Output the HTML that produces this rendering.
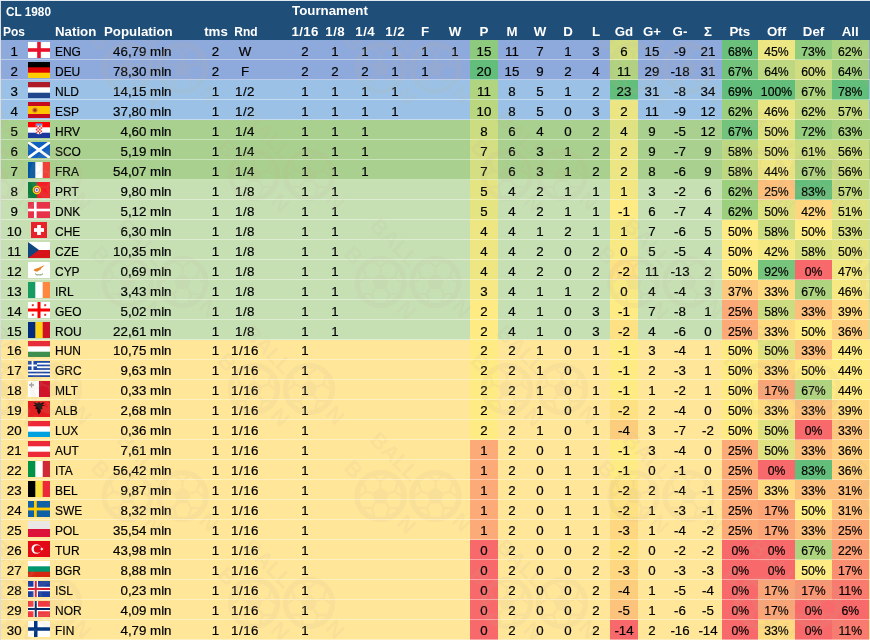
<!DOCTYPE html><html><head><meta charset="utf-8"><title>CL 1980</title><style>
*{margin:0;padding:0;box-sizing:border-box}
html,body{width:870px;height:640px;overflow:hidden;background:#DCDCDC}
body{font-family:"Liberation Sans",sans-serif;font-size:13.3px;color:#000;position:relative}
#t{position:absolute;left:1px;top:1px;width:869px;height:639px;overflow:hidden;background:#FFE699}
#tb{position:absolute;left:0;top:0;width:870px;height:1px;background:#E3E9F0}
#hd{position:absolute;left:0;top:0;width:100%;height:39px;background:#1F4E79;color:#fff;font-weight:bold}
.r{position:absolute;left:0;width:100%;height:20px}
.c{position:absolute;top:0;height:20px;line-height:23px;text-align:center;white-space:nowrap;-webkit-text-stroke:.2px #000}
.p{transform:scaleX(.92)}
.n{transform:scaleX(.9);transform-origin:0 0}
.b{position:absolute;top:0;height:20px}
.lo .c{line-height:22px}
.lo .f{top:1px}
.h{position:absolute;line-height:24px;white-space:nowrap;text-align:center}
#wm{position:absolute;left:0;top:39px;opacity:.115;fill:#C4B494;font:bold 22px "Liberation Sans",sans-serif;pointer-events:none}
#ln{position:absolute;left:0;top:39px;width:100%;height:600px;background:repeating-linear-gradient(to bottom,rgba(255,255,255,0) 0,rgba(255,255,255,0) 19px,rgba(255,255,255,.4) 19px,rgba(255,255,255,.4) 20px)}
.f{position:absolute;left:27px;top:2px;width:22px;height:16px;display:block}
</style></head><body><div id="t">
<div id="hd">
<span class="h n" style="left:4.6px;top:-1px;transform:scaleX(.885)">CL 1980</span>
<span class="h" style="left:291px;top:-2px;text-align:left">Tournament</span>
<span class="h n" style="left:1.6px;top:19px">Pos</span>
<span class="h" style="left:54px;top:19px;text-align:left">Nation</span>
<span class="h" style="left:103px;top:19px;text-align:left">Population</span>
<span class="h" style="left:193px;top:19px;width:44px;text-align:center">tms</span>
<span class="h" style="left:222.7px;top:19px;width:44px;transform:scaleX(.9)">Rnd</span>
<span class="h" style="left:282.2px;top:19px;width:44px;letter-spacing:.4px">1/16</span>
<span class="h" style="left:312.2px;top:19px;width:44px;letter-spacing:.4px">1/8</span>
<span class="h" style="left:342.2px;top:19px;width:44px;letter-spacing:.4px">1/4</span>
<span class="h" style="left:372.2px;top:19px;width:44px;letter-spacing:.4px">1/2</span>
<span class="h" style="left:402px;top:19px;width:44px;text-align:center">F</span>
<span class="h" style="left:432px;top:19px;width:44px;text-align:center">W</span>
<span class="h" style="left:469px;top:19px;width:28px;text-align:center">P</span>
<span class="h" style="left:497px;top:19px;width:28px;text-align:center">M</span>
<span class="h" style="left:525px;top:19px;width:28px;text-align:center">W</span>
<span class="h" style="left:553px;top:19px;width:28px;text-align:center">D</span>
<span class="h" style="left:581px;top:19px;width:28px;text-align:center">L</span>
<span class="h" style="left:609px;top:19px;width:28px;text-align:center">Gd</span>
<span class="h" style="left:637px;top:19px;width:28px;text-align:center">G+</span>
<span class="h" style="left:665px;top:19px;width:28px;text-align:center">G-</span>
<span class="h" style="left:693px;top:19px;width:28px;text-align:center">Σ</span>
<span class="h" style="left:720.5px;top:19px;width:36.5px;text-align:center">Pts</span>
<span class="h" style="left:757px;top:19px;width:37px;text-align:center">Off</span>
<span class="h" style="left:794px;top:19px;width:37px;text-align:center">Def</span>
<span class="h" style="left:831px;top:19px;width:36.5px;text-align:center">All</span>
</div>
<div class="r" style="top:39px;background:#8EA9DB">
<span class="c" style="left:0.7px;width:25.0px;">1</span>
<svg class="f" viewBox="0 0 22 16"><rect width="22" height="16" fill="#fff"/><rect x="9.200" width="3.600" height="16" fill="#E8112D"/><rect y="6.200" width="22" height="3.600" fill="#E8112D"/></svg>
<span class="c n" style="left:54px;width:45px;text-align:left;">ENG</span>
<span class="c" style="left:99px;width:71.5px;text-align:right;">46,79 mln</span>
<span class="c" style="left:199px;width:31px;">2</span>
<span class="c" style="left:224px;width:40px;">W</span>
<span class="c" style="left:289px;width:30px;">2</span>
<span class="c" style="left:319px;width:30px;">1</span>
<span class="c" style="left:349px;width:30px;">1</span>
<span class="c" style="left:379px;width:30px;">1</span>
<span class="c" style="left:409px;width:30px;">1</span>
<span class="c" style="left:439px;width:30px;">1</span>
<span class="c" style="left:469px;width:28px;background:#8ECA7E;">15</span>
<span class="c" style="left:497px;width:28px;">11</span>
<span class="c" style="left:525px;width:28px;">7</span>
<span class="c" style="left:553px;width:28px;">1</span>
<span class="c" style="left:581px;width:28px;">3</span>
<span class="c" style="left:609px;width:28px;background:#D2DE81;">6</span>
<span class="c" style="left:637px;width:28px;">15</span>
<span class="c" style="left:665px;width:28px;">-9</span>
<span class="c" style="left:693px;width:28px;">21</span>
<i class="b" style="left:720.5px;width:36.5px;background:#6BC07B"></i>
<span class="c p" style="left:720.5px;width:36.5px;">68%</span>
<i class="b" style="left:757px;width:37px;background:#ECE683"></i>
<span class="c p" style="left:757px;width:37px;">45%</span>
<i class="b" style="left:794px;width:37px;background:#92CC7E"></i>
<span class="c p" style="left:794px;width:37px;">73%</span>
<i class="b" style="left:831px;width:36.5px;background:#ACD37F"></i>
<span class="c p" style="left:831px;width:36.5px;">62%</span>
</div>
<div class="r" style="top:59px;background:#8EA9DB">
<span class="c" style="left:0.7px;width:25.0px;">2</span>
<svg class="f" viewBox="0 0 22 16"><rect width="22" height="16" fill="#FFCE00"/><rect width="22" height="10.7" fill="#DD0000"/><rect width="22" height="5.3" fill="#000"/></svg>
<span class="c n" style="left:54px;width:45px;text-align:left;">DEU</span>
<span class="c" style="left:99px;width:71.5px;text-align:right;">78,30 mln</span>
<span class="c" style="left:199px;width:31px;">2</span>
<span class="c" style="left:224px;width:40px;">F</span>
<span class="c" style="left:289px;width:30px;">2</span>
<span class="c" style="left:319px;width:30px;">2</span>
<span class="c" style="left:349px;width:30px;">2</span>
<span class="c" style="left:379px;width:30px;">1</span>
<span class="c" style="left:409px;width:30px;">1</span>
<span class="c" style="left:469px;width:28px;background:#63BE7B;">20</span>
<span class="c" style="left:497px;width:28px;">15</span>
<span class="c" style="left:525px;width:28px;">9</span>
<span class="c" style="left:553px;width:28px;">2</span>
<span class="c" style="left:581px;width:28px;">4</span>
<span class="c" style="left:609px;width:28px;background:#B1D480;">11</span>
<span class="c" style="left:637px;width:28px;">29</span>
<span class="c" style="left:665px;width:28px;">-18</span>
<span class="c" style="left:693px;width:28px;">31</span>
<i class="b" style="left:720.5px;width:36.5px;background:#73C37C"></i>
<span class="c p" style="left:720.5px;width:36.5px;">67%</span>
<i class="b" style="left:757px;width:37px;background:#BDD880"></i>
<span class="c p" style="left:757px;width:37px;">64%</span>
<i class="b" style="left:794px;width:37px;background:#D0DD81"></i>
<span class="c p" style="left:794px;width:37px;">60%</span>
<i class="b" style="left:831px;width:36.5px;background:#A3D17F"></i>
<span class="c p" style="left:831px;width:36.5px;">64%</span>
</div>
<div class="r" style="top:79px;background:#9BC2E6">
<span class="c" style="left:0.7px;width:25.0px;">3</span>
<svg class="f" viewBox="0 0 22 16"><rect width="22" height="16" fill="#21468B"/><rect width="22" height="10.7" fill="#fff"/><rect width="22" height="5.3" fill="#AE1C28"/></svg>
<span class="c n" style="left:54px;width:45px;text-align:left;">NLD</span>
<span class="c" style="left:99px;width:71.5px;text-align:right;">14,15 mln</span>
<span class="c" style="left:199px;width:31px;">1</span>
<span class="c" style="left:224px;width:40px;letter-spacing:.5px;">1/2</span>
<span class="c" style="left:289px;width:30px;">1</span>
<span class="c" style="left:319px;width:30px;">1</span>
<span class="c" style="left:349px;width:30px;">1</span>
<span class="c" style="left:379px;width:30px;">1</span>
<span class="c" style="left:469px;width:28px;background:#B1D480;">11</span>
<span class="c" style="left:497px;width:28px;">8</span>
<span class="c" style="left:525px;width:28px;">5</span>
<span class="c" style="left:553px;width:28px;">1</span>
<span class="c" style="left:581px;width:28px;">2</span>
<span class="c" style="left:609px;width:28px;background:#63BE7B;">23</span>
<span class="c" style="left:637px;width:28px;">31</span>
<span class="c" style="left:665px;width:28px;">-8</span>
<span class="c" style="left:693px;width:28px;">34</span>
<i class="b" style="left:720.5px;width:36.5px;background:#63BE7B"></i>
<span class="c p" style="left:720.5px;width:36.5px;">69%</span>
<i class="b" style="left:757px;width:37px;background:#63BE7B"></i>
<span class="c p" style="left:757px;width:37px;">100%</span>
<i class="b" style="left:794px;width:37px;background:#AFD47F"></i>
<span class="c p" style="left:794px;width:37px;">67%</span>
<i class="b" style="left:831px;width:36.5px;background:#63BE7B"></i>
<span class="c p" style="left:831px;width:36.5px;">78%</span>
</div>
<div class="r" style="top:99px;background:#9BC2E6">
<span class="c" style="left:0.7px;width:25.0px;">4</span>
<svg class="f" viewBox="0 0 22 16"><rect width="22" height="16" fill="#C60B1E"/><rect y="4" width="22" height="8" fill="#FFC400"/><circle cx="6.900" cy="8" r="2.600" fill="#C8782A"/><circle cx="6.900" cy="8.200" r="1.300" fill="#B02020"/></svg>
<span class="c n" style="left:54px;width:45px;text-align:left;">ESP</span>
<span class="c" style="left:99px;width:71.5px;text-align:right;">37,80 mln</span>
<span class="c" style="left:199px;width:31px;">1</span>
<span class="c" style="left:224px;width:40px;letter-spacing:.5px;">1/2</span>
<span class="c" style="left:289px;width:30px;">1</span>
<span class="c" style="left:319px;width:30px;">1</span>
<span class="c" style="left:349px;width:30px;">1</span>
<span class="c" style="left:379px;width:30px;">1</span>
<span class="c" style="left:469px;width:28px;background:#BAD780;">10</span>
<span class="c" style="left:497px;width:28px;">8</span>
<span class="c" style="left:525px;width:28px;">5</span>
<span class="c" style="left:553px;width:28px;">0</span>
<span class="c" style="left:581px;width:28px;">3</span>
<span class="c" style="left:609px;width:28px;background:#ECE583;">2</span>
<span class="c" style="left:637px;width:28px;">11</span>
<span class="c" style="left:665px;width:28px;">-9</span>
<span class="c" style="left:693px;width:28px;">12</span>
<i class="b" style="left:720.5px;width:36.5px;background:#9CCF7E"></i>
<span class="c p" style="left:720.5px;width:36.5px;">62%</span>
<i class="b" style="left:757px;width:37px;background:#EAE583"></i>
<span class="c p" style="left:757px;width:37px;">46%</span>
<i class="b" style="left:794px;width:37px;background:#C6DB81"></i>
<span class="c p" style="left:794px;width:37px;">62%</span>
<i class="b" style="left:831px;width:36.5px;background:#C3DA81"></i>
<span class="c p" style="left:831px;width:36.5px;">57%</span>
</div>
<div class="r" style="top:119px;background:#A9D08E">
<span class="c" style="left:0.7px;width:25.0px;">5</span>
<svg class="f" viewBox="0 0 22 16"><rect width="22" height="16" fill="#1C3A9E"/><rect width="22" height="10.7" fill="#fff"/><rect width="22" height="5.3" fill="#FF0000"/><path d="M7.800 2.200h6.400v6.800a3.200 3.200 0 0 1-6.400 0z" fill="#fff"/><path d="M7.800 1.400h6.400v2.200H7.800z" fill="#6F8FD8"/><path d="M7.800 3.600h1.600v1.600H7.800zM11 3.600h1.600v1.600H11zM9.400 5.200H11v1.600H9.400zM12.600 5.200h1.600v1.600h-1.600zM7.800 6.800h1.600v1.600H7.800zM11 6.800h1.600v1.600H11zM9.400 8.400H11V10H9.400zM12.600 8.400h1.600l-.3 1.600h-1.300zM7.800 10h1.600v1.500c-.8-.2-1.400-.8-1.600-1.500zM11 10h1.600l-.5 1.700c-.5.300-.8.300-1.100.3z" fill="#F03030"/></svg>
<span class="c n" style="left:54px;width:45px;text-align:left;">HRV</span>
<span class="c" style="left:99px;width:71.5px;text-align:right;">4,60 mln</span>
<span class="c" style="left:199px;width:31px;">1</span>
<span class="c" style="left:224px;width:40px;letter-spacing:.5px;">1/4</span>
<span class="c" style="left:289px;width:30px;">1</span>
<span class="c" style="left:319px;width:30px;">1</span>
<span class="c" style="left:349px;width:30px;">1</span>
<span class="c" style="left:469px;width:28px;background:#CBDC81;">8</span>
<span class="c" style="left:497px;width:28px;">6</span>
<span class="c" style="left:525px;width:28px;">4</span>
<span class="c" style="left:553px;width:28px;">0</span>
<span class="c" style="left:581px;width:28px;">2</span>
<span class="c" style="left:609px;width:28px;background:#DEE282;">4</span>
<span class="c" style="left:637px;width:28px;">9</span>
<span class="c" style="left:665px;width:28px;">-5</span>
<span class="c" style="left:693px;width:28px;">12</span>
<i class="b" style="left:720.5px;width:36.5px;background:#73C37C"></i>
<span class="c p" style="left:720.5px;width:36.5px;">67%</span>
<i class="b" style="left:757px;width:37px;background:#E0E282"></i>
<span class="c p" style="left:757px;width:37px;">50%</span>
<i class="b" style="left:794px;width:37px;background:#97CD7E"></i>
<span class="c p" style="left:794px;width:37px;">72%</span>
<i class="b" style="left:831px;width:36.5px;background:#A8D27F"></i>
<span class="c p" style="left:831px;width:36.5px;">63%</span>
</div>
<div class="r" style="top:139px;background:#A9D08E">
<span class="c" style="left:0.7px;width:25.0px;">6</span>
<svg class="f" viewBox="0 0 22 16"><rect width="22" height="16" fill="#0F5FC0"/><path d="M0 0L22 16M22 0L0 16" stroke="#fff" stroke-width="2.700"/></svg>
<span class="c n" style="left:54px;width:45px;text-align:left;">SCO</span>
<span class="c" style="left:99px;width:71.5px;text-align:right;">5,19 mln</span>
<span class="c" style="left:199px;width:31px;">1</span>
<span class="c" style="left:224px;width:40px;letter-spacing:.5px;">1/4</span>
<span class="c" style="left:289px;width:30px;">1</span>
<span class="c" style="left:319px;width:30px;">1</span>
<span class="c" style="left:349px;width:30px;">1</span>
<span class="c" style="left:469px;width:28px;background:#D4DE82;">7</span>
<span class="c" style="left:497px;width:28px;">6</span>
<span class="c" style="left:525px;width:28px;">3</span>
<span class="c" style="left:553px;width:28px;">1</span>
<span class="c" style="left:581px;width:28px;">2</span>
<span class="c" style="left:609px;width:28px;background:#ECE583;">2</span>
<span class="c" style="left:637px;width:28px;">9</span>
<span class="c" style="left:665px;width:28px;">-7</span>
<span class="c" style="left:693px;width:28px;">9</span>
<i class="b" style="left:720.5px;width:36.5px;background:#BDD880"></i>
<span class="c p" style="left:720.5px;width:36.5px;">58%</span>
<i class="b" style="left:757px;width:37px;background:#E0E282"></i>
<span class="c p" style="left:757px;width:37px;">50%</span>
<i class="b" style="left:794px;width:37px;background:#CBDC81"></i>
<span class="c p" style="left:794px;width:37px;">61%</span>
<i class="b" style="left:831px;width:36.5px;background:#C8DB81"></i>
<span class="c p" style="left:831px;width:36.5px;">56%</span>
</div>
<div class="r" style="top:159px;background:#A9D08E">
<span class="c" style="left:0.7px;width:25.0px;">7</span>
<svg class="f" viewBox="0 0 22 16"><rect width="22" height="16" fill="#EF4135"/><rect width="14.7" height="16" fill="#fff"/><rect width="7.3" height="16" fill="#0055A4"/></svg>
<span class="c n" style="left:54px;width:45px;text-align:left;">FRA</span>
<span class="c" style="left:99px;width:71.5px;text-align:right;">54,07 mln</span>
<span class="c" style="left:199px;width:31px;">1</span>
<span class="c" style="left:224px;width:40px;letter-spacing:.5px;">1/4</span>
<span class="c" style="left:289px;width:30px;">1</span>
<span class="c" style="left:319px;width:30px;">1</span>
<span class="c" style="left:349px;width:30px;">1</span>
<span class="c" style="left:469px;width:28px;background:#D4DE82;">7</span>
<span class="c" style="left:497px;width:28px;">6</span>
<span class="c" style="left:525px;width:28px;">3</span>
<span class="c" style="left:553px;width:28px;">1</span>
<span class="c" style="left:581px;width:28px;">2</span>
<span class="c" style="left:609px;width:28px;background:#ECE583;">2</span>
<span class="c" style="left:637px;width:28px;">8</span>
<span class="c" style="left:665px;width:28px;">-6</span>
<span class="c" style="left:693px;width:28px;">9</span>
<i class="b" style="left:720.5px;width:36.5px;background:#BDD880"></i>
<span class="c p" style="left:720.5px;width:36.5px;">58%</span>
<i class="b" style="left:757px;width:37px;background:#EFE683"></i>
<span class="c p" style="left:757px;width:37px;">44%</span>
<i class="b" style="left:794px;width:37px;background:#AFD47F"></i>
<span class="c p" style="left:794px;width:37px;">67%</span>
<i class="b" style="left:831px;width:36.5px;background:#C8DB81"></i>
<span class="c p" style="left:831px;width:36.5px;">56%</span>
</div>
<div class="r" style="top:179px;background:#C6E0B4">
<span class="c" style="left:0.7px;width:25.0px;">8</span>
<svg class="f" viewBox="0 0 22 16"><rect width="22" height="16" fill="#F21D26"/><rect width="8.8" height="16" fill="#0B7B3E"/><circle cx="8.8" cy="8" r="4.200" fill="#FFE000"/><circle cx="8.8" cy="8" r="2.700" fill="#F0F0F0"/><circle cx="8.8" cy="8" r="2.700" fill="none" stroke="#D03030" stroke-width=".9"/><circle cx="8.8" cy="8" r=".9" fill="#3050B0"/></svg>
<span class="c n" style="left:54px;width:45px;text-align:left;">PRT</span>
<span class="c" style="left:99px;width:71.5px;text-align:right;">9,80 mln</span>
<span class="c" style="left:199px;width:31px;">1</span>
<span class="c" style="left:224px;width:40px;letter-spacing:.5px;">1/8</span>
<span class="c" style="left:289px;width:30px;">1</span>
<span class="c" style="left:319px;width:30px;">1</span>
<span class="c" style="left:469px;width:28px;background:#E5E482;">5</span>
<span class="c" style="left:497px;width:28px;">4</span>
<span class="c" style="left:525px;width:28px;">2</span>
<span class="c" style="left:553px;width:28px;">1</span>
<span class="c" style="left:581px;width:28px;">1</span>
<span class="c" style="left:609px;width:28px;background:#F2E783;">1</span>
<span class="c" style="left:637px;width:28px;">3</span>
<span class="c" style="left:665px;width:28px;">-2</span>
<span class="c" style="left:693px;width:28px;">6</span>
<i class="b" style="left:720.5px;width:36.5px;background:#9CCF7E"></i>
<span class="c p" style="left:720.5px;width:36.5px;">62%</span>
<i class="b" style="left:757px;width:37px;background:#FDC07C"></i>
<span class="c p" style="left:757px;width:37px;">25%</span>
<i class="b" style="left:794px;width:37px;background:#63BE7B"></i>
<span class="c p" style="left:794px;width:37px;">83%</span>
<i class="b" style="left:831px;width:36.5px;background:#C3DA81"></i>
<span class="c p" style="left:831px;width:36.5px;">57%</span>
</div>
<div class="r" style="top:199px;background:#C6E0B4">
<span class="c" style="left:0.7px;width:25.0px;">9</span>
<svg class="f" viewBox="0 0 22 16"><rect width="22" height="16" fill="#E8324A"/><rect x="6" width="2.6" height="16" fill="#fff"/><rect y="6.700" width="22" height="2.6" fill="#fff"/></svg>
<span class="c n" style="left:54px;width:45px;text-align:left;">DNK</span>
<span class="c" style="left:99px;width:71.5px;text-align:right;">5,12 mln</span>
<span class="c" style="left:199px;width:31px;">1</span>
<span class="c" style="left:224px;width:40px;letter-spacing:.5px;">1/8</span>
<span class="c" style="left:289px;width:30px;">1</span>
<span class="c" style="left:319px;width:30px;">1</span>
<span class="c" style="left:469px;width:28px;background:#E5E482;">5</span>
<span class="c" style="left:497px;width:28px;">4</span>
<span class="c" style="left:525px;width:28px;">2</span>
<span class="c" style="left:553px;width:28px;">1</span>
<span class="c" style="left:581px;width:28px;">1</span>
<span class="c" style="left:609px;width:28px;background:#FFEB84;">-1</span>
<span class="c" style="left:637px;width:28px;">6</span>
<span class="c" style="left:665px;width:28px;">-7</span>
<span class="c" style="left:693px;width:28px;">4</span>
<i class="b" style="left:720.5px;width:36.5px;background:#9CCF7E"></i>
<span class="c p" style="left:720.5px;width:36.5px;">62%</span>
<i class="b" style="left:757px;width:37px;background:#E0E282"></i>
<span class="c p" style="left:757px;width:37px;">50%</span>
<i class="b" style="left:794px;width:37px;background:#FED680"></i>
<span class="c p" style="left:794px;width:37px;">42%</span>
<i class="b" style="left:831px;width:36.5px;background:#DFE282"></i>
<span class="c p" style="left:831px;width:36.5px;">51%</span>
</div>
<div class="r" style="top:219px;background:#C6E0B4">
<span class="c" style="left:0.7px;width:25.0px;">10</span>
<svg class="f" viewBox="0 0 22 16"><rect x="3" width="16" height="16" fill="#E8222A"/><rect x="9.100" y="3" width="3.800" height="10" fill="#fff"/><rect x="6" y="6.100" width="10" height="3.800" fill="#fff"/></svg>
<span class="c n" style="left:54px;width:45px;text-align:left;">CHE</span>
<span class="c" style="left:99px;width:71.5px;text-align:right;">6,30 mln</span>
<span class="c" style="left:199px;width:31px;">1</span>
<span class="c" style="left:224px;width:40px;letter-spacing:.5px;">1/8</span>
<span class="c" style="left:289px;width:30px;">1</span>
<span class="c" style="left:319px;width:30px;">1</span>
<span class="c" style="left:469px;width:28px;background:#EEE683;">4</span>
<span class="c" style="left:497px;width:28px;">4</span>
<span class="c" style="left:525px;width:28px;">1</span>
<span class="c" style="left:553px;width:28px;">2</span>
<span class="c" style="left:581px;width:28px;">1</span>
<span class="c" style="left:609px;width:28px;background:#F2E783;">1</span>
<span class="c" style="left:637px;width:28px;">7</span>
<span class="c" style="left:665px;width:28px;">-6</span>
<span class="c" style="left:693px;width:28px;">5</span>
<i class="b" style="left:720.5px;width:36.5px;background:#FFEB84"></i>
<span class="c p" style="left:720.5px;width:36.5px;">50%</span>
<i class="b" style="left:757px;width:37px;background:#CCDC81"></i>
<span class="c p" style="left:757px;width:37px;">58%</span>
<i class="b" style="left:794px;width:37px;background:#FFEB84"></i>
<span class="c p" style="left:794px;width:37px;">50%</span>
<i class="b" style="left:831px;width:36.5px;background:#D6DF82"></i>
<span class="c p" style="left:831px;width:36.5px;">53%</span>
</div>
<div class="r" style="top:239px;background:#C6E0B4">
<span class="c" style="left:0.7px;width:25.0px;">11</span>
<svg class="f" viewBox="0 0 22 16"><rect width="22" height="16" fill="#D7141A"/><rect width="22" height="8" fill="#fff"/><path d="M0 0L11 8L0 16z" fill="#11457E"/></svg>
<span class="c n" style="left:54px;width:45px;text-align:left;">CZE</span>
<span class="c" style="left:99px;width:71.5px;text-align:right;">10,35 mln</span>
<span class="c" style="left:199px;width:31px;">1</span>
<span class="c" style="left:224px;width:40px;letter-spacing:.5px;">1/8</span>
<span class="c" style="left:289px;width:30px;">1</span>
<span class="c" style="left:319px;width:30px;">1</span>
<span class="c" style="left:469px;width:28px;background:#EEE683;">4</span>
<span class="c" style="left:497px;width:28px;">4</span>
<span class="c" style="left:525px;width:28px;">2</span>
<span class="c" style="left:553px;width:28px;">0</span>
<span class="c" style="left:581px;width:28px;">2</span>
<span class="c" style="left:609px;width:28px;background:#F8E984;">0</span>
<span class="c" style="left:637px;width:28px;">5</span>
<span class="c" style="left:665px;width:28px;">-5</span>
<span class="c" style="left:693px;width:28px;">4</span>
<i class="b" style="left:720.5px;width:36.5px;background:#FFEB84"></i>
<span class="c p" style="left:720.5px;width:36.5px;">50%</span>
<i class="b" style="left:757px;width:37px;background:#F4E883"></i>
<span class="c p" style="left:757px;width:37px;">42%</span>
<i class="b" style="left:794px;width:37px;background:#D9E082"></i>
<span class="c p" style="left:794px;width:37px;">58%</span>
<i class="b" style="left:831px;width:36.5px;background:#E3E382"></i>
<span class="c p" style="left:831px;width:36.5px;">50%</span>
</div>
<div class="r" style="top:259px;background:#C6E0B4">
<span class="c" style="left:0.7px;width:25.0px;">12</span>
<svg class="f" viewBox="0 0 22 16"><rect width="22" height="16" fill="#fff"/><path d="M5.5 8.2c1-1.500 3-1.800 4.500-2.200 1.500-.4 3.500-1.800 6.500-3-.8 1.500-2.500 2.500-3.500 3.500.3.800-.5 1.500-1.500 1.700-1 .200-1.500 1.300-2.800 1.300-1.500 0-2.200-.8-3.200-1.300z" fill="#E2882A"/><path d="M7 11.500c1 1.300 2.500 1.800 3.800 1.300M15 11.500c-1 1.300-2.500 1.800-3.800 1.300" stroke="#6B8E4E" stroke-width="1" fill="none"/></svg>
<span class="c n" style="left:54px;width:45px;text-align:left;">CYP</span>
<span class="c" style="left:99px;width:71.5px;text-align:right;">0,69 mln</span>
<span class="c" style="left:199px;width:31px;">1</span>
<span class="c" style="left:224px;width:40px;letter-spacing:.5px;">1/8</span>
<span class="c" style="left:289px;width:30px;">1</span>
<span class="c" style="left:319px;width:30px;">1</span>
<span class="c" style="left:469px;width:28px;background:#EEE683;">4</span>
<span class="c" style="left:497px;width:28px;">4</span>
<span class="c" style="left:525px;width:28px;">2</span>
<span class="c" style="left:553px;width:28px;">0</span>
<span class="c" style="left:581px;width:28px;">2</span>
<span class="c" style="left:609px;width:28px;background:#FEE182;">-2</span>
<span class="c" style="left:637px;width:28px;">11</span>
<span class="c" style="left:665px;width:28px;">-13</span>
<span class="c" style="left:693px;width:28px;">2</span>
<i class="b" style="left:720.5px;width:36.5px;background:#FFEB84"></i>
<span class="c p" style="left:720.5px;width:36.5px;">50%</span>
<i class="b" style="left:757px;width:37px;background:#77C47C"></i>
<span class="c p" style="left:757px;width:37px;">92%</span>
<i class="b" style="left:794px;width:37px;background:#F8696B"></i>
<span class="c p" style="left:794px;width:37px;">0%</span>
<i class="b" style="left:831px;width:36.5px;background:#F1E783"></i>
<span class="c p" style="left:831px;width:36.5px;">47%</span>
</div>
<div class="r" style="top:279px;background:#C6E0B4">
<span class="c" style="left:0.7px;width:25.0px;">13</span>
<svg class="f" viewBox="0 0 22 16"><rect width="22" height="16" fill="#FF883E"/><rect width="14.7" height="16" fill="#fff"/><rect width="7.3" height="16" fill="#169B62"/></svg>
<span class="c n" style="left:54px;width:45px;text-align:left;">IRL</span>
<span class="c" style="left:99px;width:71.5px;text-align:right;">3,43 mln</span>
<span class="c" style="left:199px;width:31px;">1</span>
<span class="c" style="left:224px;width:40px;letter-spacing:.5px;">1/8</span>
<span class="c" style="left:289px;width:30px;">1</span>
<span class="c" style="left:319px;width:30px;">1</span>
<span class="c" style="left:469px;width:28px;background:#F6E884;">3</span>
<span class="c" style="left:497px;width:28px;">4</span>
<span class="c" style="left:525px;width:28px;">1</span>
<span class="c" style="left:553px;width:28px;">1</span>
<span class="c" style="left:581px;width:28px;">2</span>
<span class="c" style="left:609px;width:28px;background:#F8E984;">0</span>
<span class="c" style="left:637px;width:28px;">4</span>
<span class="c" style="left:665px;width:28px;">-4</span>
<span class="c" style="left:693px;width:28px;">3</span>
<i class="b" style="left:720.5px;width:36.5px;background:#FDC97E"></i>
<span class="c p" style="left:720.5px;width:36.5px;">37%</span>
<i class="b" style="left:757px;width:37px;background:#FEDB81"></i>
<span class="c p" style="left:757px;width:37px;">33%</span>
<i class="b" style="left:794px;width:37px;background:#AFD47F"></i>
<span class="c p" style="left:794px;width:37px;">67%</span>
<i class="b" style="left:831px;width:36.5px;background:#F6E883"></i>
<span class="c p" style="left:831px;width:36.5px;">46%</span>
</div>
<div class="r" style="top:299px;background:#C6E0B4">
<span class="c" style="left:0.7px;width:25.0px;">14</span>
<svg class="f" viewBox="0 0 22 16"><rect width="22" height="16" fill="#fff"/><rect x="9.500" width="3" height="16" fill="#FF0000"/><rect y="6.500" width="22" height="3" fill="#FF0000"/><g fill="#E03030"><rect x="3.800" y="2.200" width="2" height="2"/><rect x="16.200" y="2.200" width="2" height="2"/><rect x="3.800" y="11.800" width="2" height="2"/><rect x="16.200" y="11.800" width="2" height="2"/></g></svg>
<span class="c n" style="left:54px;width:45px;text-align:left;">GEO</span>
<span class="c" style="left:99px;width:71.5px;text-align:right;">5,02 mln</span>
<span class="c" style="left:199px;width:31px;">1</span>
<span class="c" style="left:224px;width:40px;letter-spacing:.5px;">1/8</span>
<span class="c" style="left:289px;width:30px;">1</span>
<span class="c" style="left:319px;width:30px;">1</span>
<span class="c" style="left:469px;width:28px;background:#FFEB84;">2</span>
<span class="c" style="left:497px;width:28px;">4</span>
<span class="c" style="left:525px;width:28px;">1</span>
<span class="c" style="left:553px;width:28px;">0</span>
<span class="c" style="left:581px;width:28px;">3</span>
<span class="c" style="left:609px;width:28px;background:#FFEB84;">-1</span>
<span class="c" style="left:637px;width:28px;">7</span>
<span class="c" style="left:665px;width:28px;">-8</span>
<span class="c" style="left:693px;width:28px;">1</span>
<i class="b" style="left:720.5px;width:36.5px;background:#FCAA78"></i>
<span class="c p" style="left:720.5px;width:36.5px;">25%</span>
<i class="b" style="left:757px;width:37px;background:#CCDC81"></i>
<span class="c p" style="left:757px;width:37px;">58%</span>
<i class="b" style="left:794px;width:37px;background:#FDBF7C"></i>
<span class="c p" style="left:794px;width:37px;">33%</span>
<i class="b" style="left:831px;width:36.5px;background:#FEDA81"></i>
<span class="c p" style="left:831px;width:36.5px;">39%</span>
</div>
<div class="r" style="top:319px;background:#C6E0B4">
<span class="c" style="left:0.7px;width:25.0px;">15</span>
<svg class="f" viewBox="0 0 22 16"><rect width="22" height="16" fill="#CE1126"/><rect width="14.7" height="16" fill="#FCD116"/><rect width="7.3" height="16" fill="#002B7F"/></svg>
<span class="c n" style="left:54px;width:45px;text-align:left;">ROU</span>
<span class="c" style="left:99px;width:71.5px;text-align:right;">22,61 mln</span>
<span class="c" style="left:199px;width:31px;">1</span>
<span class="c" style="left:224px;width:40px;letter-spacing:.5px;">1/8</span>
<span class="c" style="left:289px;width:30px;">1</span>
<span class="c" style="left:319px;width:30px;">1</span>
<span class="c" style="left:469px;width:28px;background:#FFEB84;">2</span>
<span class="c" style="left:497px;width:28px;">4</span>
<span class="c" style="left:525px;width:28px;">1</span>
<span class="c" style="left:553px;width:28px;">0</span>
<span class="c" style="left:581px;width:28px;">3</span>
<span class="c" style="left:609px;width:28px;background:#FEE182;">-2</span>
<span class="c" style="left:637px;width:28px;">4</span>
<span class="c" style="left:665px;width:28px;">-6</span>
<span class="c" style="left:693px;width:28px;">0</span>
<i class="b" style="left:720.5px;width:36.5px;background:#FCAA78"></i>
<span class="c p" style="left:720.5px;width:36.5px;">25%</span>
<i class="b" style="left:757px;width:37px;background:#FEDB81"></i>
<span class="c p" style="left:757px;width:37px;">33%</span>
<i class="b" style="left:794px;width:37px;background:#FFEB84"></i>
<span class="c p" style="left:794px;width:37px;">50%</span>
<i class="b" style="left:831px;width:36.5px;background:#FED07F"></i>
<span class="c p" style="left:831px;width:36.5px;">36%</span>
</div>
<div class="r lo" style="top:339px;background:#FFE699">
<span class="c" style="left:0.7px;width:25.0px;">16</span>
<svg class="f" viewBox="0 0 22 16"><rect width="22" height="16" fill="#3E8E4E"/><rect width="22" height="10.7" fill="#fff"/><rect width="22" height="5.3" fill="#E62D3A"/></svg>
<span class="c n" style="left:54px;width:45px;text-align:left;">HUN</span>
<span class="c" style="left:99px;width:71.5px;text-align:right;">10,75 mln</span>
<span class="c" style="left:199px;width:31px;">1</span>
<span class="c" style="left:224px;width:40px;letter-spacing:.5px;">1/16</span>
<span class="c" style="left:289px;width:30px;">1</span>
<span class="c" style="left:469px;width:28px;background:#FFEB84;">2</span>
<span class="c" style="left:497px;width:28px;">2</span>
<span class="c" style="left:525px;width:28px;">1</span>
<span class="c" style="left:553px;width:28px;">0</span>
<span class="c" style="left:581px;width:28px;">1</span>
<span class="c" style="left:609px;width:28px;background:#FFEB84;">-1</span>
<span class="c" style="left:637px;width:28px;">3</span>
<span class="c" style="left:665px;width:28px;">-4</span>
<span class="c" style="left:693px;width:28px;">1</span>
<i class="b" style="left:720.5px;width:36.5px;background:#FFEB84"></i>
<span class="c p" style="left:720.5px;width:36.5px;">50%</span>
<i class="b" style="left:757px;width:37px;background:#E0E282"></i>
<span class="c p" style="left:757px;width:37px;">50%</span>
<i class="b" style="left:794px;width:37px;background:#FDBF7C"></i>
<span class="c p" style="left:794px;width:37px;">33%</span>
<i class="b" style="left:831px;width:36.5px;background:#FFEB84"></i>
<span class="c p" style="left:831px;width:36.5px;">44%</span>
</div>
<div class="r lo" style="top:359px;background:#FFE699">
<span class="c" style="left:0.7px;width:25.0px;">17</span>
<svg class="f" viewBox="0 0 22 16"><rect width="22" height="16" fill="#1F49A6"/><g fill="#fff"><rect y="1.800" width="22" height="1.800"/><rect y="5.300" width="22" height="1.800"/><rect y="8.900" width="22" height="1.800"/><rect y="12.400" width="22" height="1.800"/></g><rect width="9" height="8.900" fill="#1F49A6"/><rect x="3.600" width="1.800" height="8.900" fill="#fff"/><rect y="3.550" width="9" height="1.800" fill="#fff"/></svg>
<span class="c n" style="left:54px;width:45px;text-align:left;">GRC</span>
<span class="c" style="left:99px;width:71.5px;text-align:right;">9,63 mln</span>
<span class="c" style="left:199px;width:31px;">1</span>
<span class="c" style="left:224px;width:40px;letter-spacing:.5px;">1/16</span>
<span class="c" style="left:289px;width:30px;">1</span>
<span class="c" style="left:469px;width:28px;background:#FFEB84;">2</span>
<span class="c" style="left:497px;width:28px;">2</span>
<span class="c" style="left:525px;width:28px;">1</span>
<span class="c" style="left:553px;width:28px;">0</span>
<span class="c" style="left:581px;width:28px;">1</span>
<span class="c" style="left:609px;width:28px;background:#FFEB84;">-1</span>
<span class="c" style="left:637px;width:28px;">2</span>
<span class="c" style="left:665px;width:28px;">-3</span>
<span class="c" style="left:693px;width:28px;">1</span>
<i class="b" style="left:720.5px;width:36.5px;background:#FFEB84"></i>
<span class="c p" style="left:720.5px;width:36.5px;">50%</span>
<i class="b" style="left:757px;width:37px;background:#FEDB81"></i>
<span class="c p" style="left:757px;width:37px;">33%</span>
<i class="b" style="left:794px;width:37px;background:#FFEB84"></i>
<span class="c p" style="left:794px;width:37px;">50%</span>
<i class="b" style="left:831px;width:36.5px;background:#FFEB84"></i>
<span class="c p" style="left:831px;width:36.5px;">44%</span>
</div>
<div class="r lo" style="top:379px;background:#FFE699">
<span class="c" style="left:0.7px;width:25.0px;">18</span>
<svg class="f" viewBox="0 0 22 16"><rect width="22" height="16" fill="#CF142B"/><rect width="11" height="16" fill="#fff"/><path d="M3.500 1.500v5M1 4h5" stroke="#A0A0A0" stroke-width="1.300"/></svg>
<span class="c n" style="left:54px;width:45px;text-align:left;">MLT</span>
<span class="c" style="left:99px;width:71.5px;text-align:right;">0,33 mln</span>
<span class="c" style="left:199px;width:31px;">1</span>
<span class="c" style="left:224px;width:40px;letter-spacing:.5px;">1/16</span>
<span class="c" style="left:289px;width:30px;">1</span>
<span class="c" style="left:469px;width:28px;background:#FFEB84;">2</span>
<span class="c" style="left:497px;width:28px;">2</span>
<span class="c" style="left:525px;width:28px;">1</span>
<span class="c" style="left:553px;width:28px;">0</span>
<span class="c" style="left:581px;width:28px;">1</span>
<span class="c" style="left:609px;width:28px;background:#FFEB84;">-1</span>
<span class="c" style="left:637px;width:28px;">1</span>
<span class="c" style="left:665px;width:28px;">-2</span>
<span class="c" style="left:693px;width:28px;">1</span>
<i class="b" style="left:720.5px;width:36.5px;background:#FFEB84"></i>
<span class="c p" style="left:720.5px;width:36.5px;">50%</span>
<i class="b" style="left:757px;width:37px;background:#FBA476"></i>
<span class="c p" style="left:757px;width:37px;">17%</span>
<i class="b" style="left:794px;width:37px;background:#AFD47F"></i>
<span class="c p" style="left:794px;width:37px;">67%</span>
<i class="b" style="left:831px;width:36.5px;background:#FFEB84"></i>
<span class="c p" style="left:831px;width:36.5px;">44%</span>
</div>
<div class="r lo" style="top:399px;background:#FFE699">
<span class="c" style="left:0.7px;width:25.0px;">19</span>
<svg class="f" viewBox="0 0 22 16"><rect width="22" height="16" fill="#E41E20"/><path transform="translate(11 8) scale(1.350) translate(-11 -8.500)" d="M11 3.500c.6 0 1 .5 1.200 1 .8-.8 2-1 3-.8-.8.500-1 1.200-1.800 1.600.800 0 1.500.3 2 .8-1 0-1.600.500-2.500.6.500.500.800 1.200.6 2-.6-.500-1-.3-1.300.2.300.8.300 1.800-1.200 3.600-1.500-1.800-1.500-2.800-1.200-3.600-.3-.5-.7-.7-1.300-.2-.2-.8.100-1.500.6-2-.9-.1-1.500-.6-2.500-.6.500-.5 1.200-.8 2-.8-.8-.4-1-1.100-1.800-1.600 1-.2 2.200 0 3 .8.200-.5.600-1 1.200-1z" fill="#1a0a0a"/></svg>
<span class="c n" style="left:54px;width:45px;text-align:left;">ALB</span>
<span class="c" style="left:99px;width:71.5px;text-align:right;">2,68 mln</span>
<span class="c" style="left:199px;width:31px;">1</span>
<span class="c" style="left:224px;width:40px;letter-spacing:.5px;">1/16</span>
<span class="c" style="left:289px;width:30px;">1</span>
<span class="c" style="left:469px;width:28px;background:#FFEB84;">2</span>
<span class="c" style="left:497px;width:28px;">2</span>
<span class="c" style="left:525px;width:28px;">1</span>
<span class="c" style="left:553px;width:28px;">0</span>
<span class="c" style="left:581px;width:28px;">1</span>
<span class="c" style="left:609px;width:28px;background:#FEE182;">-2</span>
<span class="c" style="left:637px;width:28px;">2</span>
<span class="c" style="left:665px;width:28px;">-4</span>
<span class="c" style="left:693px;width:28px;">0</span>
<i class="b" style="left:720.5px;width:36.5px;background:#FFEB84"></i>
<span class="c p" style="left:720.5px;width:36.5px;">50%</span>
<i class="b" style="left:757px;width:37px;background:#FEDB81"></i>
<span class="c p" style="left:757px;width:37px;">33%</span>
<i class="b" style="left:794px;width:37px;background:#FDBF7C"></i>
<span class="c p" style="left:794px;width:37px;">33%</span>
<i class="b" style="left:831px;width:36.5px;background:#FEDA81"></i>
<span class="c p" style="left:831px;width:36.5px;">39%</span>
</div>
<div class="r lo" style="top:419px;background:#FFE699">
<span class="c" style="left:0.7px;width:25.0px;">20</span>
<svg class="f" viewBox="0 0 22 16"><rect width="22" height="16" fill="#00A1DE"/><rect width="22" height="10.7" fill="#fff"/><rect width="22" height="5.3" fill="#ED2939"/></svg>
<span class="c n" style="left:54px;width:45px;text-align:left;">LUX</span>
<span class="c" style="left:99px;width:71.5px;text-align:right;">0,36 mln</span>
<span class="c" style="left:199px;width:31px;">1</span>
<span class="c" style="left:224px;width:40px;letter-spacing:.5px;">1/16</span>
<span class="c" style="left:289px;width:30px;">1</span>
<span class="c" style="left:469px;width:28px;background:#FFEB84;">2</span>
<span class="c" style="left:497px;width:28px;">2</span>
<span class="c" style="left:525px;width:28px;">1</span>
<span class="c" style="left:553px;width:28px;">0</span>
<span class="c" style="left:581px;width:28px;">1</span>
<span class="c" style="left:609px;width:28px;background:#FDCD7E;">-4</span>
<span class="c" style="left:637px;width:28px;">3</span>
<span class="c" style="left:665px;width:28px;">-7</span>
<span class="c" style="left:693px;width:28px;">-2</span>
<i class="b" style="left:720.5px;width:36.5px;background:#FFEB84"></i>
<span class="c p" style="left:720.5px;width:36.5px;">50%</span>
<i class="b" style="left:757px;width:37px;background:#E0E282"></i>
<span class="c p" style="left:757px;width:37px;">50%</span>
<i class="b" style="left:794px;width:37px;background:#F8696B"></i>
<span class="c p" style="left:794px;width:37px;">0%</span>
<i class="b" style="left:831px;width:36.5px;background:#FDC57D"></i>
<span class="c p" style="left:831px;width:36.5px;">33%</span>
</div>
<div class="r lo" style="top:439px;background:#FFE699">
<span class="c" style="left:0.7px;width:25.0px;">21</span>
<svg class="f" viewBox="0 0 22 16"><rect width="22" height="16" fill="#ED2939"/><rect y="5.3" width="22" height="5.400" fill="#fff"/></svg>
<span class="c n" style="left:54px;width:45px;text-align:left;">AUT</span>
<span class="c" style="left:99px;width:71.5px;text-align:right;">7,61 mln</span>
<span class="c" style="left:199px;width:31px;">1</span>
<span class="c" style="left:224px;width:40px;letter-spacing:.5px;">1/16</span>
<span class="c" style="left:289px;width:30px;">1</span>
<span class="c" style="left:469px;width:28px;background:#FCAA78;">1</span>
<span class="c" style="left:497px;width:28px;">2</span>
<span class="c" style="left:525px;width:28px;">0</span>
<span class="c" style="left:553px;width:28px;">1</span>
<span class="c" style="left:581px;width:28px;">1</span>
<span class="c" style="left:609px;width:28px;background:#FFEB84;">-1</span>
<span class="c" style="left:637px;width:28px;">3</span>
<span class="c" style="left:665px;width:28px;">-4</span>
<span class="c" style="left:693px;width:28px;">0</span>
<i class="b" style="left:720.5px;width:36.5px;background:#FCAA78"></i>
<span class="c p" style="left:720.5px;width:36.5px;">25%</span>
<i class="b" style="left:757px;width:37px;background:#E0E282"></i>
<span class="c p" style="left:757px;width:37px;">50%</span>
<i class="b" style="left:794px;width:37px;background:#FDBF7C"></i>
<span class="c p" style="left:794px;width:37px;">33%</span>
<i class="b" style="left:831px;width:36.5px;background:#FED07F"></i>
<span class="c p" style="left:831px;width:36.5px;">36%</span>
</div>
<div class="r lo" style="top:459px;background:#FFE699">
<span class="c" style="left:0.7px;width:25.0px;">22</span>
<svg class="f" viewBox="0 0 22 16"><rect width="22" height="16" fill="#CE2B37"/><rect width="14.7" height="16" fill="#fff"/><rect width="7.3" height="16" fill="#009246"/></svg>
<span class="c n" style="left:54px;width:45px;text-align:left;">ITA</span>
<span class="c" style="left:99px;width:71.5px;text-align:right;">56,42 mln</span>
<span class="c" style="left:199px;width:31px;">1</span>
<span class="c" style="left:224px;width:40px;letter-spacing:.5px;">1/16</span>
<span class="c" style="left:289px;width:30px;">1</span>
<span class="c" style="left:469px;width:28px;background:#FCAA78;">1</span>
<span class="c" style="left:497px;width:28px;">2</span>
<span class="c" style="left:525px;width:28px;">0</span>
<span class="c" style="left:553px;width:28px;">1</span>
<span class="c" style="left:581px;width:28px;">1</span>
<span class="c" style="left:609px;width:28px;background:#FFEB84;">-1</span>
<span class="c" style="left:637px;width:28px;">0</span>
<span class="c" style="left:665px;width:28px;">-1</span>
<span class="c" style="left:693px;width:28px;">0</span>
<i class="b" style="left:720.5px;width:36.5px;background:#FCAA78"></i>
<span class="c p" style="left:720.5px;width:36.5px;">25%</span>
<i class="b" style="left:757px;width:37px;background:#F8696B"></i>
<span class="c p" style="left:757px;width:37px;">0%</span>
<i class="b" style="left:794px;width:37px;background:#63BE7B"></i>
<span class="c p" style="left:794px;width:37px;">83%</span>
<i class="b" style="left:831px;width:36.5px;background:#FED07F"></i>
<span class="c p" style="left:831px;width:36.5px;">36%</span>
</div>
<div class="r lo" style="top:479px;background:#FFE699">
<span class="c" style="left:0.7px;width:25.0px;">23</span>
<svg class="f" viewBox="0 0 22 16"><rect width="22" height="16" fill="#ED2939"/><rect width="14.7" height="16" fill="#FAE042"/><rect width="7.3" height="16" fill="#000"/></svg>
<span class="c n" style="left:54px;width:45px;text-align:left;">BEL</span>
<span class="c" style="left:99px;width:71.5px;text-align:right;">9,87 mln</span>
<span class="c" style="left:199px;width:31px;">1</span>
<span class="c" style="left:224px;width:40px;letter-spacing:.5px;">1/16</span>
<span class="c" style="left:289px;width:30px;">1</span>
<span class="c" style="left:469px;width:28px;background:#FCAA78;">1</span>
<span class="c" style="left:497px;width:28px;">2</span>
<span class="c" style="left:525px;width:28px;">0</span>
<span class="c" style="left:553px;width:28px;">1</span>
<span class="c" style="left:581px;width:28px;">1</span>
<span class="c" style="left:609px;width:28px;background:#FEE182;">-2</span>
<span class="c" style="left:637px;width:28px;">2</span>
<span class="c" style="left:665px;width:28px;">-4</span>
<span class="c" style="left:693px;width:28px;">-1</span>
<i class="b" style="left:720.5px;width:36.5px;background:#FCAA78"></i>
<span class="c p" style="left:720.5px;width:36.5px;">25%</span>
<i class="b" style="left:757px;width:37px;background:#FEDB81"></i>
<span class="c p" style="left:757px;width:37px;">33%</span>
<i class="b" style="left:794px;width:37px;background:#FDBF7C"></i>
<span class="c p" style="left:794px;width:37px;">33%</span>
<i class="b" style="left:831px;width:36.5px;background:#FDBF7B"></i>
<span class="c p" style="left:831px;width:36.5px;">31%</span>
</div>
<div class="r lo" style="top:499px;background:#FFE699">
<span class="c" style="left:0.7px;width:25.0px;">24</span>
<svg class="f" viewBox="0 0 22 16"><rect width="22" height="16" fill="#1060A8"/><rect x="6" width="2.800" height="16" fill="#FECC00"/><rect y="6.600" width="22" height="2.800" fill="#FECC00"/></svg>
<span class="c n" style="left:54px;width:45px;text-align:left;">SWE</span>
<span class="c" style="left:99px;width:71.5px;text-align:right;">8,32 mln</span>
<span class="c" style="left:199px;width:31px;">1</span>
<span class="c" style="left:224px;width:40px;letter-spacing:.5px;">1/16</span>
<span class="c" style="left:289px;width:30px;">1</span>
<span class="c" style="left:469px;width:28px;background:#FCAA78;">1</span>
<span class="c" style="left:497px;width:28px;">2</span>
<span class="c" style="left:525px;width:28px;">0</span>
<span class="c" style="left:553px;width:28px;">1</span>
<span class="c" style="left:581px;width:28px;">1</span>
<span class="c" style="left:609px;width:28px;background:#FEE182;">-2</span>
<span class="c" style="left:637px;width:28px;">1</span>
<span class="c" style="left:665px;width:28px;">-3</span>
<span class="c" style="left:693px;width:28px;">-1</span>
<i class="b" style="left:720.5px;width:36.5px;background:#FCAA78"></i>
<span class="c p" style="left:720.5px;width:36.5px;">25%</span>
<i class="b" style="left:757px;width:37px;background:#FBA476"></i>
<span class="c p" style="left:757px;width:37px;">17%</span>
<i class="b" style="left:794px;width:37px;background:#FFEB84"></i>
<span class="c p" style="left:794px;width:37px;">50%</span>
<i class="b" style="left:831px;width:36.5px;background:#FDBF7B"></i>
<span class="c p" style="left:831px;width:36.5px;">31%</span>
</div>
<div class="r lo" style="top:519px;background:#FFE699">
<span class="c" style="left:0.7px;width:25.0px;">25</span>
<svg class="f" viewBox="0 0 22 16"><rect width="22" height="16" fill="#DC143C"/><rect width="22" height="8" fill="#E9E8E7"/></svg>
<span class="c n" style="left:54px;width:45px;text-align:left;">POL</span>
<span class="c" style="left:99px;width:71.5px;text-align:right;">35,54 mln</span>
<span class="c" style="left:199px;width:31px;">1</span>
<span class="c" style="left:224px;width:40px;letter-spacing:.5px;">1/16</span>
<span class="c" style="left:289px;width:30px;">1</span>
<span class="c" style="left:469px;width:28px;background:#FCAA78;">1</span>
<span class="c" style="left:497px;width:28px;">2</span>
<span class="c" style="left:525px;width:28px;">0</span>
<span class="c" style="left:553px;width:28px;">1</span>
<span class="c" style="left:581px;width:28px;">1</span>
<span class="c" style="left:609px;width:28px;background:#FED780;">-3</span>
<span class="c" style="left:637px;width:28px;">1</span>
<span class="c" style="left:665px;width:28px;">-4</span>
<span class="c" style="left:693px;width:28px;">-2</span>
<i class="b" style="left:720.5px;width:36.5px;background:#FCAA78"></i>
<span class="c p" style="left:720.5px;width:36.5px;">25%</span>
<i class="b" style="left:757px;width:37px;background:#FBA476"></i>
<span class="c p" style="left:757px;width:37px;">17%</span>
<i class="b" style="left:794px;width:37px;background:#FDBF7C"></i>
<span class="c p" style="left:794px;width:37px;">33%</span>
<i class="b" style="left:831px;width:36.5px;background:#FCAA78"></i>
<span class="c p" style="left:831px;width:36.5px;">25%</span>
</div>
<div class="r lo" style="top:539px;background:#FFE699">
<span class="c" style="left:0.7px;width:25.0px;">26</span>
<svg class="f" viewBox="0 0 22 16"><rect width="22" height="16" fill="#E30A17"/><circle cx="8.300" cy="8" r="4.800" fill="#fff"/><circle cx="9.600" cy="8" r="3.850" fill="#E30A17"/><path d="M11.600 8l3.900-1.300-2.400 3.350v-4.100l2.400 3.350z" fill="#fff"/></svg>
<span class="c n" style="left:54px;width:45px;text-align:left;">TUR</span>
<span class="c" style="left:99px;width:71.5px;text-align:right;">43,98 mln</span>
<span class="c" style="left:199px;width:31px;">1</span>
<span class="c" style="left:224px;width:40px;letter-spacing:.5px;">1/16</span>
<span class="c" style="left:289px;width:30px;">1</span>
<span class="c" style="left:469px;width:28px;background:#F8696B;">0</span>
<span class="c" style="left:497px;width:28px;">2</span>
<span class="c" style="left:525px;width:28px;">0</span>
<span class="c" style="left:553px;width:28px;">0</span>
<span class="c" style="left:581px;width:28px;">2</span>
<span class="c" style="left:609px;width:28px;background:#FEE182;">-2</span>
<span class="c" style="left:637px;width:28px;">0</span>
<span class="c" style="left:665px;width:28px;">-2</span>
<span class="c" style="left:693px;width:28px;">-2</span>
<i class="b" style="left:720.5px;width:36.5px;background:#F8696B"></i>
<span class="c p" style="left:720.5px;width:36.5px;">0%</span>
<i class="b" style="left:757px;width:37px;background:#F8696B"></i>
<span class="c p" style="left:757px;width:37px;">0%</span>
<i class="b" style="left:794px;width:37px;background:#AFD47F"></i>
<span class="c p" style="left:794px;width:37px;">67%</span>
<i class="b" style="left:831px;width:36.5px;background:#FBA076"></i>
<span class="c p" style="left:831px;width:36.5px;">22%</span>
</div>
<div class="r lo" style="top:559px;background:#FFE699">
<span class="c" style="left:0.7px;width:25.0px;">27</span>
<svg class="f" viewBox="0 0 22 16"><rect width="22" height="16" fill="#D62612"/><rect width="22" height="10.7" fill="#00966E"/><rect width="22" height="5.3" fill="#fff"/></svg>
<span class="c n" style="left:54px;width:45px;text-align:left;">BGR</span>
<span class="c" style="left:99px;width:71.5px;text-align:right;">8,88 mln</span>
<span class="c" style="left:199px;width:31px;">1</span>
<span class="c" style="left:224px;width:40px;letter-spacing:.5px;">1/16</span>
<span class="c" style="left:289px;width:30px;">1</span>
<span class="c" style="left:469px;width:28px;background:#F8696B;">0</span>
<span class="c" style="left:497px;width:28px;">2</span>
<span class="c" style="left:525px;width:28px;">0</span>
<span class="c" style="left:553px;width:28px;">0</span>
<span class="c" style="left:581px;width:28px;">2</span>
<span class="c" style="left:609px;width:28px;background:#FED780;">-3</span>
<span class="c" style="left:637px;width:28px;">0</span>
<span class="c" style="left:665px;width:28px;">-3</span>
<span class="c" style="left:693px;width:28px;">-3</span>
<i class="b" style="left:720.5px;width:36.5px;background:#F8696B"></i>
<span class="c p" style="left:720.5px;width:36.5px;">0%</span>
<i class="b" style="left:757px;width:37px;background:#F8696B"></i>
<span class="c p" style="left:757px;width:37px;">0%</span>
<i class="b" style="left:794px;width:37px;background:#FFEB84"></i>
<span class="c p" style="left:794px;width:37px;">50%</span>
<i class="b" style="left:831px;width:36.5px;background:#FA8F72"></i>
<span class="c p" style="left:831px;width:36.5px;">17%</span>
</div>
<div class="r lo" style="top:579px;background:#FFE699">
<span class="c" style="left:0.7px;width:25.0px;">28</span>
<svg class="f" viewBox="0 0 22 16"><rect width="22" height="16" fill="#1A3DA0"/><rect x="5.500" width="4.500" height="16" fill="#fff"/><rect y="5.750" width="22" height="4.500" fill="#fff"/><rect x="6.750" width="2" height="16" fill="#DC1E35"/><rect y="7" width="22" height="2" fill="#DC1E35"/></svg>
<span class="c n" style="left:54px;width:45px;text-align:left;">ISL</span>
<span class="c" style="left:99px;width:71.5px;text-align:right;">0,23 mln</span>
<span class="c" style="left:199px;width:31px;">1</span>
<span class="c" style="left:224px;width:40px;letter-spacing:.5px;">1/16</span>
<span class="c" style="left:289px;width:30px;">1</span>
<span class="c" style="left:469px;width:28px;background:#F8696B;">0</span>
<span class="c" style="left:497px;width:28px;">2</span>
<span class="c" style="left:525px;width:28px;">0</span>
<span class="c" style="left:553px;width:28px;">0</span>
<span class="c" style="left:581px;width:28px;">2</span>
<span class="c" style="left:609px;width:28px;background:#FDCD7E;">-4</span>
<span class="c" style="left:637px;width:28px;">1</span>
<span class="c" style="left:665px;width:28px;">-5</span>
<span class="c" style="left:693px;width:28px;">-4</span>
<i class="b" style="left:720.5px;width:36.5px;background:#F8696B"></i>
<span class="c p" style="left:720.5px;width:36.5px;">0%</span>
<i class="b" style="left:757px;width:37px;background:#FBA476"></i>
<span class="c p" style="left:757px;width:37px;">17%</span>
<i class="b" style="left:794px;width:37px;background:#FA9574"></i>
<span class="c p" style="left:794px;width:37px;">17%</span>
<i class="b" style="left:831px;width:36.5px;background:#F97A6E"></i>
<span class="c p" style="left:831px;width:36.5px;">11%</span>
</div>
<div class="r lo" style="top:599px;background:#FFE699">
<span class="c" style="left:0.7px;width:25.0px;">29</span>
<svg class="f" viewBox="0 0 22 16"><rect width="22" height="16" fill="#F03A40"/><rect x="5.500" width="4.500" height="16" fill="#fff"/><rect y="5.750" width="22" height="4.500" fill="#fff"/><rect x="6.750" width="2" height="16" fill="#002868"/><rect y="7" width="22" height="2" fill="#002868"/></svg>
<span class="c n" style="left:54px;width:45px;text-align:left;">NOR</span>
<span class="c" style="left:99px;width:71.5px;text-align:right;">4,09 mln</span>
<span class="c" style="left:199px;width:31px;">1</span>
<span class="c" style="left:224px;width:40px;letter-spacing:.5px;">1/16</span>
<span class="c" style="left:289px;width:30px;">1</span>
<span class="c" style="left:469px;width:28px;background:#F8696B;">0</span>
<span class="c" style="left:497px;width:28px;">2</span>
<span class="c" style="left:525px;width:28px;">0</span>
<span class="c" style="left:553px;width:28px;">0</span>
<span class="c" style="left:581px;width:28px;">2</span>
<span class="c" style="left:609px;width:28px;background:#FDC37C;">-5</span>
<span class="c" style="left:637px;width:28px;">1</span>
<span class="c" style="left:665px;width:28px;">-6</span>
<span class="c" style="left:693px;width:28px;">-5</span>
<i class="b" style="left:720.5px;width:36.5px;background:#F8696B"></i>
<span class="c p" style="left:720.5px;width:36.5px;">0%</span>
<i class="b" style="left:757px;width:37px;background:#FBA476"></i>
<span class="c p" style="left:757px;width:37px;">17%</span>
<i class="b" style="left:794px;width:37px;background:#F8696B"></i>
<span class="c p" style="left:794px;width:37px;">0%</span>
<i class="b" style="left:831px;width:36.5px;background:#F8696B"></i>
<span class="c p" style="left:831px;width:36.5px;">6%</span>
</div>
<div class="r lo" style="top:619px;background:#FFE699">
<span class="c" style="left:0.7px;width:25.0px;">30</span>
<svg class="f" viewBox="0 0 22 16"><rect width="22" height="16" fill="#fff"/><rect x="6" width="3.500" height="16" fill="#003580"/><rect y="6.250" width="22" height="3.500" fill="#003580"/></svg>
<span class="c n" style="left:54px;width:45px;text-align:left;">FIN</span>
<span class="c" style="left:99px;width:71.5px;text-align:right;">4,79 mln</span>
<span class="c" style="left:199px;width:31px;">1</span>
<span class="c" style="left:224px;width:40px;letter-spacing:.5px;">1/16</span>
<span class="c" style="left:289px;width:30px;">1</span>
<span class="c" style="left:469px;width:28px;background:#F8696B;">0</span>
<span class="c" style="left:497px;width:28px;">2</span>
<span class="c" style="left:525px;width:28px;">0</span>
<span class="c" style="left:553px;width:28px;">0</span>
<span class="c" style="left:581px;width:28px;">2</span>
<span class="c" style="left:609px;width:28px;background:#F8696B;">-14</span>
<span class="c" style="left:637px;width:28px;">2</span>
<span class="c" style="left:665px;width:28px;">-16</span>
<span class="c" style="left:693px;width:28px;">-14</span>
<i class="b" style="left:720.5px;width:36.5px;background:#F8696B"></i>
<span class="c p" style="left:720.5px;width:36.5px;">0%</span>
<i class="b" style="left:757px;width:37px;background:#FEDB81"></i>
<span class="c p" style="left:757px;width:37px;">33%</span>
<i class="b" style="left:794px;width:37px;background:#F8696B"></i>
<span class="c p" style="left:794px;width:37px;">0%</span>
<i class="b" style="left:831px;width:36.5px;background:#F97A6E"></i>
<span class="c p" style="left:831px;width:36.5px;">11%</span>
</div>
<svg id="wm" width="869" height="600" viewBox="1 40 869 600"><g transform="translate(155 68)"><circle cx="-27.5" cy="0" r="23.5" fill="none" stroke="#C4B494" stroke-width="5.5"/><polygon points="-27.5,-9.0 -18.9,-2.8 -22.2,7.3 -32.8,7.3 -36.1,-2.8"/><path d="M-27.5 -9.0L-27.5 -15.0M-34.3 -19.9L-27.5 -15.0L-20.7 -19.9M-18.9 -2.8L-13.2 -4.6M-10.7 -12.6L-13.2 -4.6L-6.5 0.3M-22.2 7.3L-18.7 12.1M-10.3 12.1L-18.7 12.1L-21.3 20.1M-32.8 7.3L-36.3 12.1M-33.7 20.1L-36.3 12.1L-44.7 12.1M-36.1 -2.8L-41.8 -4.6M-48.5 0.3L-41.8 -4.6L-44.3 -12.6" fill="none" stroke="#C4B494" stroke-width="2.5"/><circle cx="27.5" cy="0" r="23.5" fill="none" stroke="#C4B494" stroke-width="5.5"/><polygon points="27.5,-9.0 36.1,-2.8 32.8,7.3 22.2,7.3 18.9,-2.8"/><path d="M27.5 -9.0L27.5 -15.0M20.7 -19.9L27.5 -15.0L34.3 -19.9M36.1 -2.8L41.8 -4.6M44.3 -12.6L41.8 -4.6L48.5 0.3M32.8 7.3L36.3 12.1M44.7 12.1L36.3 12.1L33.7 20.1M22.2 7.3L18.7 12.1M21.3 20.1L18.7 12.1L10.3 12.1M18.9 -2.8L13.2 -4.6M6.5 0.3L13.2 -4.6L10.7 -12.6" fill="none" stroke="#C4B494" stroke-width="2.5"/><text transform="translate(-13 -40) rotate(45)" text-anchor="middle" y="8">BALL</text><text transform="translate(-1 28) rotate(45)" text-anchor="middle" y="8">N</text><text transform="translate(-54 -27) rotate(45)" text-anchor="middle" y="8">B</text><text transform="translate(54 26) rotate(45)" text-anchor="middle" y="8">N</text></g><g transform="translate(408 68)"><circle cx="-27.5" cy="0" r="23.5" fill="none" stroke="#C4B494" stroke-width="5.5"/><polygon points="-27.5,-9.0 -18.9,-2.8 -22.2,7.3 -32.8,7.3 -36.1,-2.8"/><path d="M-27.5 -9.0L-27.5 -15.0M-34.3 -19.9L-27.5 -15.0L-20.7 -19.9M-18.9 -2.8L-13.2 -4.6M-10.7 -12.6L-13.2 -4.6L-6.5 0.3M-22.2 7.3L-18.7 12.1M-10.3 12.1L-18.7 12.1L-21.3 20.1M-32.8 7.3L-36.3 12.1M-33.7 20.1L-36.3 12.1L-44.7 12.1M-36.1 -2.8L-41.8 -4.6M-48.5 0.3L-41.8 -4.6L-44.3 -12.6" fill="none" stroke="#C4B494" stroke-width="2.5"/><circle cx="27.5" cy="0" r="23.5" fill="none" stroke="#C4B494" stroke-width="5.5"/><polygon points="27.5,-9.0 36.1,-2.8 32.8,7.3 22.2,7.3 18.9,-2.8"/><path d="M27.5 -9.0L27.5 -15.0M20.7 -19.9L27.5 -15.0L34.3 -19.9M36.1 -2.8L41.8 -4.6M44.3 -12.6L41.8 -4.6L48.5 0.3M32.8 7.3L36.3 12.1M44.7 12.1L36.3 12.1L33.7 20.1M22.2 7.3L18.7 12.1M21.3 20.1L18.7 12.1L10.3 12.1M18.9 -2.8L13.2 -4.6M6.5 0.3L13.2 -4.6L10.7 -12.6" fill="none" stroke="#C4B494" stroke-width="2.5"/><text transform="translate(-13 -40) rotate(45)" text-anchor="middle" y="8">BALL</text><text transform="translate(-1 28) rotate(45)" text-anchor="middle" y="8">N</text><text transform="translate(-54 -27) rotate(45)" text-anchor="middle" y="8">B</text><text transform="translate(54 26) rotate(45)" text-anchor="middle" y="8">N</text></g><g transform="translate(661 68)"><circle cx="-27.5" cy="0" r="23.5" fill="none" stroke="#C4B494" stroke-width="5.5"/><polygon points="-27.5,-9.0 -18.9,-2.8 -22.2,7.3 -32.8,7.3 -36.1,-2.8"/><path d="M-27.5 -9.0L-27.5 -15.0M-34.3 -19.9L-27.5 -15.0L-20.7 -19.9M-18.9 -2.8L-13.2 -4.6M-10.7 -12.6L-13.2 -4.6L-6.5 0.3M-22.2 7.3L-18.7 12.1M-10.3 12.1L-18.7 12.1L-21.3 20.1M-32.8 7.3L-36.3 12.1M-33.7 20.1L-36.3 12.1L-44.7 12.1M-36.1 -2.8L-41.8 -4.6M-48.5 0.3L-41.8 -4.6L-44.3 -12.6" fill="none" stroke="#C4B494" stroke-width="2.5"/><circle cx="27.5" cy="0" r="23.5" fill="none" stroke="#C4B494" stroke-width="5.5"/><polygon points="27.5,-9.0 36.1,-2.8 32.8,7.3 22.2,7.3 18.9,-2.8"/><path d="M27.5 -9.0L27.5 -15.0M20.7 -19.9L27.5 -15.0L34.3 -19.9M36.1 -2.8L41.8 -4.6M44.3 -12.6L41.8 -4.6L48.5 0.3M32.8 7.3L36.3 12.1M44.7 12.1L36.3 12.1L33.7 20.1M22.2 7.3L18.7 12.1M21.3 20.1L18.7 12.1L10.3 12.1M18.9 -2.8L13.2 -4.6M6.5 0.3L13.2 -4.6L10.7 -12.6" fill="none" stroke="#C4B494" stroke-width="2.5"/><text transform="translate(-13 -40) rotate(45)" text-anchor="middle" y="8">BALL</text><text transform="translate(-1 28) rotate(45)" text-anchor="middle" y="8">N</text><text transform="translate(-54 -27) rotate(45)" text-anchor="middle" y="8">B</text><text transform="translate(54 26) rotate(45)" text-anchor="middle" y="8">N</text></g><g transform="translate(914 68)"><circle cx="-27.5" cy="0" r="23.5" fill="none" stroke="#C4B494" stroke-width="5.5"/><polygon points="-27.5,-9.0 -18.9,-2.8 -22.2,7.3 -32.8,7.3 -36.1,-2.8"/><path d="M-27.5 -9.0L-27.5 -15.0M-34.3 -19.9L-27.5 -15.0L-20.7 -19.9M-18.9 -2.8L-13.2 -4.6M-10.7 -12.6L-13.2 -4.6L-6.5 0.3M-22.2 7.3L-18.7 12.1M-10.3 12.1L-18.7 12.1L-21.3 20.1M-32.8 7.3L-36.3 12.1M-33.7 20.1L-36.3 12.1L-44.7 12.1M-36.1 -2.8L-41.8 -4.6M-48.5 0.3L-41.8 -4.6L-44.3 -12.6" fill="none" stroke="#C4B494" stroke-width="2.5"/><circle cx="27.5" cy="0" r="23.5" fill="none" stroke="#C4B494" stroke-width="5.5"/><polygon points="27.5,-9.0 36.1,-2.8 32.8,7.3 22.2,7.3 18.9,-2.8"/><path d="M27.5 -9.0L27.5 -15.0M20.7 -19.9L27.5 -15.0L34.3 -19.9M36.1 -2.8L41.8 -4.6M44.3 -12.6L41.8 -4.6L48.5 0.3M32.8 7.3L36.3 12.1M44.7 12.1L36.3 12.1L33.7 20.1M22.2 7.3L18.7 12.1M21.3 20.1L18.7 12.1L10.3 12.1M18.9 -2.8L13.2 -4.6M6.5 0.3L13.2 -4.6L10.7 -12.6" fill="none" stroke="#C4B494" stroke-width="2.5"/><text transform="translate(-13 -40) rotate(45)" text-anchor="middle" y="8">BALL</text><text transform="translate(-1 28) rotate(45)" text-anchor="middle" y="8">N</text><text transform="translate(-54 -27) rotate(45)" text-anchor="middle" y="8">B</text><text transform="translate(54 26) rotate(45)" text-anchor="middle" y="8">N</text></g><g transform="translate(28.5 175)"><circle cx="-27.5" cy="0" r="23.5" fill="none" stroke="#C4B494" stroke-width="5.5"/><polygon points="-27.5,-9.0 -18.9,-2.8 -22.2,7.3 -32.8,7.3 -36.1,-2.8"/><path d="M-27.5 -9.0L-27.5 -15.0M-34.3 -19.9L-27.5 -15.0L-20.7 -19.9M-18.9 -2.8L-13.2 -4.6M-10.7 -12.6L-13.2 -4.6L-6.5 0.3M-22.2 7.3L-18.7 12.1M-10.3 12.1L-18.7 12.1L-21.3 20.1M-32.8 7.3L-36.3 12.1M-33.7 20.1L-36.3 12.1L-44.7 12.1M-36.1 -2.8L-41.8 -4.6M-48.5 0.3L-41.8 -4.6L-44.3 -12.6" fill="none" stroke="#C4B494" stroke-width="2.5"/><circle cx="27.5" cy="0" r="23.5" fill="none" stroke="#C4B494" stroke-width="5.5"/><polygon points="27.5,-9.0 36.1,-2.8 32.8,7.3 22.2,7.3 18.9,-2.8"/><path d="M27.5 -9.0L27.5 -15.0M20.7 -19.9L27.5 -15.0L34.3 -19.9M36.1 -2.8L41.8 -4.6M44.3 -12.6L41.8 -4.6L48.5 0.3M32.8 7.3L36.3 12.1M44.7 12.1L36.3 12.1L33.7 20.1M22.2 7.3L18.7 12.1M21.3 20.1L18.7 12.1L10.3 12.1M18.9 -2.8L13.2 -4.6M6.5 0.3L13.2 -4.6L10.7 -12.6" fill="none" stroke="#C4B494" stroke-width="2.5"/><text transform="translate(-13 -40) rotate(45)" text-anchor="middle" y="8">BALL</text><text transform="translate(-1 28) rotate(45)" text-anchor="middle" y="8">N</text><text transform="translate(-54 -27) rotate(45)" text-anchor="middle" y="8">B</text><text transform="translate(54 26) rotate(45)" text-anchor="middle" y="8">N</text></g><g transform="translate(281.5 175)"><circle cx="-27.5" cy="0" r="23.5" fill="none" stroke="#C4B494" stroke-width="5.5"/><polygon points="-27.5,-9.0 -18.9,-2.8 -22.2,7.3 -32.8,7.3 -36.1,-2.8"/><path d="M-27.5 -9.0L-27.5 -15.0M-34.3 -19.9L-27.5 -15.0L-20.7 -19.9M-18.9 -2.8L-13.2 -4.6M-10.7 -12.6L-13.2 -4.6L-6.5 0.3M-22.2 7.3L-18.7 12.1M-10.3 12.1L-18.7 12.1L-21.3 20.1M-32.8 7.3L-36.3 12.1M-33.7 20.1L-36.3 12.1L-44.7 12.1M-36.1 -2.8L-41.8 -4.6M-48.5 0.3L-41.8 -4.6L-44.3 -12.6" fill="none" stroke="#C4B494" stroke-width="2.5"/><circle cx="27.5" cy="0" r="23.5" fill="none" stroke="#C4B494" stroke-width="5.5"/><polygon points="27.5,-9.0 36.1,-2.8 32.8,7.3 22.2,7.3 18.9,-2.8"/><path d="M27.5 -9.0L27.5 -15.0M20.7 -19.9L27.5 -15.0L34.3 -19.9M36.1 -2.8L41.8 -4.6M44.3 -12.6L41.8 -4.6L48.5 0.3M32.8 7.3L36.3 12.1M44.7 12.1L36.3 12.1L33.7 20.1M22.2 7.3L18.7 12.1M21.3 20.1L18.7 12.1L10.3 12.1M18.9 -2.8L13.2 -4.6M6.5 0.3L13.2 -4.6L10.7 -12.6" fill="none" stroke="#C4B494" stroke-width="2.5"/><text transform="translate(-13 -40) rotate(45)" text-anchor="middle" y="8">BALL</text><text transform="translate(-1 28) rotate(45)" text-anchor="middle" y="8">N</text><text transform="translate(-54 -27) rotate(45)" text-anchor="middle" y="8">B</text><text transform="translate(54 26) rotate(45)" text-anchor="middle" y="8">N</text></g><g transform="translate(534.5 175)"><circle cx="-27.5" cy="0" r="23.5" fill="none" stroke="#C4B494" stroke-width="5.5"/><polygon points="-27.5,-9.0 -18.9,-2.8 -22.2,7.3 -32.8,7.3 -36.1,-2.8"/><path d="M-27.5 -9.0L-27.5 -15.0M-34.3 -19.9L-27.5 -15.0L-20.7 -19.9M-18.9 -2.8L-13.2 -4.6M-10.7 -12.6L-13.2 -4.6L-6.5 0.3M-22.2 7.3L-18.7 12.1M-10.3 12.1L-18.7 12.1L-21.3 20.1M-32.8 7.3L-36.3 12.1M-33.7 20.1L-36.3 12.1L-44.7 12.1M-36.1 -2.8L-41.8 -4.6M-48.5 0.3L-41.8 -4.6L-44.3 -12.6" fill="none" stroke="#C4B494" stroke-width="2.5"/><circle cx="27.5" cy="0" r="23.5" fill="none" stroke="#C4B494" stroke-width="5.5"/><polygon points="27.5,-9.0 36.1,-2.8 32.8,7.3 22.2,7.3 18.9,-2.8"/><path d="M27.5 -9.0L27.5 -15.0M20.7 -19.9L27.5 -15.0L34.3 -19.9M36.1 -2.8L41.8 -4.6M44.3 -12.6L41.8 -4.6L48.5 0.3M32.8 7.3L36.3 12.1M44.7 12.1L36.3 12.1L33.7 20.1M22.2 7.3L18.7 12.1M21.3 20.1L18.7 12.1L10.3 12.1M18.9 -2.8L13.2 -4.6M6.5 0.3L13.2 -4.6L10.7 -12.6" fill="none" stroke="#C4B494" stroke-width="2.5"/><text transform="translate(-13 -40) rotate(45)" text-anchor="middle" y="8">BALL</text><text transform="translate(-1 28) rotate(45)" text-anchor="middle" y="8">N</text><text transform="translate(-54 -27) rotate(45)" text-anchor="middle" y="8">B</text><text transform="translate(54 26) rotate(45)" text-anchor="middle" y="8">N</text></g><g transform="translate(787.5 175)"><circle cx="-27.5" cy="0" r="23.5" fill="none" stroke="#C4B494" stroke-width="5.5"/><polygon points="-27.5,-9.0 -18.9,-2.8 -22.2,7.3 -32.8,7.3 -36.1,-2.8"/><path d="M-27.5 -9.0L-27.5 -15.0M-34.3 -19.9L-27.5 -15.0L-20.7 -19.9M-18.9 -2.8L-13.2 -4.6M-10.7 -12.6L-13.2 -4.6L-6.5 0.3M-22.2 7.3L-18.7 12.1M-10.3 12.1L-18.7 12.1L-21.3 20.1M-32.8 7.3L-36.3 12.1M-33.7 20.1L-36.3 12.1L-44.7 12.1M-36.1 -2.8L-41.8 -4.6M-48.5 0.3L-41.8 -4.6L-44.3 -12.6" fill="none" stroke="#C4B494" stroke-width="2.5"/><circle cx="27.5" cy="0" r="23.5" fill="none" stroke="#C4B494" stroke-width="5.5"/><polygon points="27.5,-9.0 36.1,-2.8 32.8,7.3 22.2,7.3 18.9,-2.8"/><path d="M27.5 -9.0L27.5 -15.0M20.7 -19.9L27.5 -15.0L34.3 -19.9M36.1 -2.8L41.8 -4.6M44.3 -12.6L41.8 -4.6L48.5 0.3M32.8 7.3L36.3 12.1M44.7 12.1L36.3 12.1L33.7 20.1M22.2 7.3L18.7 12.1M21.3 20.1L18.7 12.1L10.3 12.1M18.9 -2.8L13.2 -4.6M6.5 0.3L13.2 -4.6L10.7 -12.6" fill="none" stroke="#C4B494" stroke-width="2.5"/><text transform="translate(-13 -40) rotate(45)" text-anchor="middle" y="8">BALL</text><text transform="translate(-1 28) rotate(45)" text-anchor="middle" y="8">N</text><text transform="translate(-54 -27) rotate(45)" text-anchor="middle" y="8">B</text><text transform="translate(54 26) rotate(45)" text-anchor="middle" y="8">N</text></g><g transform="translate(155 282)"><circle cx="-27.5" cy="0" r="23.5" fill="none" stroke="#C4B494" stroke-width="5.5"/><polygon points="-27.5,-9.0 -18.9,-2.8 -22.2,7.3 -32.8,7.3 -36.1,-2.8"/><path d="M-27.5 -9.0L-27.5 -15.0M-34.3 -19.9L-27.5 -15.0L-20.7 -19.9M-18.9 -2.8L-13.2 -4.6M-10.7 -12.6L-13.2 -4.6L-6.5 0.3M-22.2 7.3L-18.7 12.1M-10.3 12.1L-18.7 12.1L-21.3 20.1M-32.8 7.3L-36.3 12.1M-33.7 20.1L-36.3 12.1L-44.7 12.1M-36.1 -2.8L-41.8 -4.6M-48.5 0.3L-41.8 -4.6L-44.3 -12.6" fill="none" stroke="#C4B494" stroke-width="2.5"/><circle cx="27.5" cy="0" r="23.5" fill="none" stroke="#C4B494" stroke-width="5.5"/><polygon points="27.5,-9.0 36.1,-2.8 32.8,7.3 22.2,7.3 18.9,-2.8"/><path d="M27.5 -9.0L27.5 -15.0M20.7 -19.9L27.5 -15.0L34.3 -19.9M36.1 -2.8L41.8 -4.6M44.3 -12.6L41.8 -4.6L48.5 0.3M32.8 7.3L36.3 12.1M44.7 12.1L36.3 12.1L33.7 20.1M22.2 7.3L18.7 12.1M21.3 20.1L18.7 12.1L10.3 12.1M18.9 -2.8L13.2 -4.6M6.5 0.3L13.2 -4.6L10.7 -12.6" fill="none" stroke="#C4B494" stroke-width="2.5"/><text transform="translate(-13 -40) rotate(45)" text-anchor="middle" y="8">BALL</text><text transform="translate(-1 28) rotate(45)" text-anchor="middle" y="8">N</text><text transform="translate(-54 -27) rotate(45)" text-anchor="middle" y="8">B</text><text transform="translate(54 26) rotate(45)" text-anchor="middle" y="8">N</text></g><g transform="translate(408 282)"><circle cx="-27.5" cy="0" r="23.5" fill="none" stroke="#C4B494" stroke-width="5.5"/><polygon points="-27.5,-9.0 -18.9,-2.8 -22.2,7.3 -32.8,7.3 -36.1,-2.8"/><path d="M-27.5 -9.0L-27.5 -15.0M-34.3 -19.9L-27.5 -15.0L-20.7 -19.9M-18.9 -2.8L-13.2 -4.6M-10.7 -12.6L-13.2 -4.6L-6.5 0.3M-22.2 7.3L-18.7 12.1M-10.3 12.1L-18.7 12.1L-21.3 20.1M-32.8 7.3L-36.3 12.1M-33.7 20.1L-36.3 12.1L-44.7 12.1M-36.1 -2.8L-41.8 -4.6M-48.5 0.3L-41.8 -4.6L-44.3 -12.6" fill="none" stroke="#C4B494" stroke-width="2.5"/><circle cx="27.5" cy="0" r="23.5" fill="none" stroke="#C4B494" stroke-width="5.5"/><polygon points="27.5,-9.0 36.1,-2.8 32.8,7.3 22.2,7.3 18.9,-2.8"/><path d="M27.5 -9.0L27.5 -15.0M20.7 -19.9L27.5 -15.0L34.3 -19.9M36.1 -2.8L41.8 -4.6M44.3 -12.6L41.8 -4.6L48.5 0.3M32.8 7.3L36.3 12.1M44.7 12.1L36.3 12.1L33.7 20.1M22.2 7.3L18.7 12.1M21.3 20.1L18.7 12.1L10.3 12.1M18.9 -2.8L13.2 -4.6M6.5 0.3L13.2 -4.6L10.7 -12.6" fill="none" stroke="#C4B494" stroke-width="2.5"/><text transform="translate(-13 -40) rotate(45)" text-anchor="middle" y="8">BALL</text><text transform="translate(-1 28) rotate(45)" text-anchor="middle" y="8">N</text><text transform="translate(-54 -27) rotate(45)" text-anchor="middle" y="8">B</text><text transform="translate(54 26) rotate(45)" text-anchor="middle" y="8">N</text></g><g transform="translate(661 282)"><circle cx="-27.5" cy="0" r="23.5" fill="none" stroke="#C4B494" stroke-width="5.5"/><polygon points="-27.5,-9.0 -18.9,-2.8 -22.2,7.3 -32.8,7.3 -36.1,-2.8"/><path d="M-27.5 -9.0L-27.5 -15.0M-34.3 -19.9L-27.5 -15.0L-20.7 -19.9M-18.9 -2.8L-13.2 -4.6M-10.7 -12.6L-13.2 -4.6L-6.5 0.3M-22.2 7.3L-18.7 12.1M-10.3 12.1L-18.7 12.1L-21.3 20.1M-32.8 7.3L-36.3 12.1M-33.7 20.1L-36.3 12.1L-44.7 12.1M-36.1 -2.8L-41.8 -4.6M-48.5 0.3L-41.8 -4.6L-44.3 -12.6" fill="none" stroke="#C4B494" stroke-width="2.5"/><circle cx="27.5" cy="0" r="23.5" fill="none" stroke="#C4B494" stroke-width="5.5"/><polygon points="27.5,-9.0 36.1,-2.8 32.8,7.3 22.2,7.3 18.9,-2.8"/><path d="M27.5 -9.0L27.5 -15.0M20.7 -19.9L27.5 -15.0L34.3 -19.9M36.1 -2.8L41.8 -4.6M44.3 -12.6L41.8 -4.6L48.5 0.3M32.8 7.3L36.3 12.1M44.7 12.1L36.3 12.1L33.7 20.1M22.2 7.3L18.7 12.1M21.3 20.1L18.7 12.1L10.3 12.1M18.9 -2.8L13.2 -4.6M6.5 0.3L13.2 -4.6L10.7 -12.6" fill="none" stroke="#C4B494" stroke-width="2.5"/><text transform="translate(-13 -40) rotate(45)" text-anchor="middle" y="8">BALL</text><text transform="translate(-1 28) rotate(45)" text-anchor="middle" y="8">N</text><text transform="translate(-54 -27) rotate(45)" text-anchor="middle" y="8">B</text><text transform="translate(54 26) rotate(45)" text-anchor="middle" y="8">N</text></g><g transform="translate(914 282)"><circle cx="-27.5" cy="0" r="23.5" fill="none" stroke="#C4B494" stroke-width="5.5"/><polygon points="-27.5,-9.0 -18.9,-2.8 -22.2,7.3 -32.8,7.3 -36.1,-2.8"/><path d="M-27.5 -9.0L-27.5 -15.0M-34.3 -19.9L-27.5 -15.0L-20.7 -19.9M-18.9 -2.8L-13.2 -4.6M-10.7 -12.6L-13.2 -4.6L-6.5 0.3M-22.2 7.3L-18.7 12.1M-10.3 12.1L-18.7 12.1L-21.3 20.1M-32.8 7.3L-36.3 12.1M-33.7 20.1L-36.3 12.1L-44.7 12.1M-36.1 -2.8L-41.8 -4.6M-48.5 0.3L-41.8 -4.6L-44.3 -12.6" fill="none" stroke="#C4B494" stroke-width="2.5"/><circle cx="27.5" cy="0" r="23.5" fill="none" stroke="#C4B494" stroke-width="5.5"/><polygon points="27.5,-9.0 36.1,-2.8 32.8,7.3 22.2,7.3 18.9,-2.8"/><path d="M27.5 -9.0L27.5 -15.0M20.7 -19.9L27.5 -15.0L34.3 -19.9M36.1 -2.8L41.8 -4.6M44.3 -12.6L41.8 -4.6L48.5 0.3M32.8 7.3L36.3 12.1M44.7 12.1L36.3 12.1L33.7 20.1M22.2 7.3L18.7 12.1M21.3 20.1L18.7 12.1L10.3 12.1M18.9 -2.8L13.2 -4.6M6.5 0.3L13.2 -4.6L10.7 -12.6" fill="none" stroke="#C4B494" stroke-width="2.5"/><text transform="translate(-13 -40) rotate(45)" text-anchor="middle" y="8">BALL</text><text transform="translate(-1 28) rotate(45)" text-anchor="middle" y="8">N</text><text transform="translate(-54 -27) rotate(45)" text-anchor="middle" y="8">B</text><text transform="translate(54 26) rotate(45)" text-anchor="middle" y="8">N</text></g><g transform="translate(28.5 389)"><circle cx="-27.5" cy="0" r="23.5" fill="none" stroke="#C4B494" stroke-width="5.5"/><polygon points="-27.5,-9.0 -18.9,-2.8 -22.2,7.3 -32.8,7.3 -36.1,-2.8"/><path d="M-27.5 -9.0L-27.5 -15.0M-34.3 -19.9L-27.5 -15.0L-20.7 -19.9M-18.9 -2.8L-13.2 -4.6M-10.7 -12.6L-13.2 -4.6L-6.5 0.3M-22.2 7.3L-18.7 12.1M-10.3 12.1L-18.7 12.1L-21.3 20.1M-32.8 7.3L-36.3 12.1M-33.7 20.1L-36.3 12.1L-44.7 12.1M-36.1 -2.8L-41.8 -4.6M-48.5 0.3L-41.8 -4.6L-44.3 -12.6" fill="none" stroke="#C4B494" stroke-width="2.5"/><circle cx="27.5" cy="0" r="23.5" fill="none" stroke="#C4B494" stroke-width="5.5"/><polygon points="27.5,-9.0 36.1,-2.8 32.8,7.3 22.2,7.3 18.9,-2.8"/><path d="M27.5 -9.0L27.5 -15.0M20.7 -19.9L27.5 -15.0L34.3 -19.9M36.1 -2.8L41.8 -4.6M44.3 -12.6L41.8 -4.6L48.5 0.3M32.8 7.3L36.3 12.1M44.7 12.1L36.3 12.1L33.7 20.1M22.2 7.3L18.7 12.1M21.3 20.1L18.7 12.1L10.3 12.1M18.9 -2.8L13.2 -4.6M6.5 0.3L13.2 -4.6L10.7 -12.6" fill="none" stroke="#C4B494" stroke-width="2.5"/><text transform="translate(-13 -40) rotate(45)" text-anchor="middle" y="8">BALL</text><text transform="translate(-1 28) rotate(45)" text-anchor="middle" y="8">N</text><text transform="translate(-54 -27) rotate(45)" text-anchor="middle" y="8">B</text><text transform="translate(54 26) rotate(45)" text-anchor="middle" y="8">N</text></g><g transform="translate(281.5 389)"><circle cx="-27.5" cy="0" r="23.5" fill="none" stroke="#C4B494" stroke-width="5.5"/><polygon points="-27.5,-9.0 -18.9,-2.8 -22.2,7.3 -32.8,7.3 -36.1,-2.8"/><path d="M-27.5 -9.0L-27.5 -15.0M-34.3 -19.9L-27.5 -15.0L-20.7 -19.9M-18.9 -2.8L-13.2 -4.6M-10.7 -12.6L-13.2 -4.6L-6.5 0.3M-22.2 7.3L-18.7 12.1M-10.3 12.1L-18.7 12.1L-21.3 20.1M-32.8 7.3L-36.3 12.1M-33.7 20.1L-36.3 12.1L-44.7 12.1M-36.1 -2.8L-41.8 -4.6M-48.5 0.3L-41.8 -4.6L-44.3 -12.6" fill="none" stroke="#C4B494" stroke-width="2.5"/><circle cx="27.5" cy="0" r="23.5" fill="none" stroke="#C4B494" stroke-width="5.5"/><polygon points="27.5,-9.0 36.1,-2.8 32.8,7.3 22.2,7.3 18.9,-2.8"/><path d="M27.5 -9.0L27.5 -15.0M20.7 -19.9L27.5 -15.0L34.3 -19.9M36.1 -2.8L41.8 -4.6M44.3 -12.6L41.8 -4.6L48.5 0.3M32.8 7.3L36.3 12.1M44.7 12.1L36.3 12.1L33.7 20.1M22.2 7.3L18.7 12.1M21.3 20.1L18.7 12.1L10.3 12.1M18.9 -2.8L13.2 -4.6M6.5 0.3L13.2 -4.6L10.7 -12.6" fill="none" stroke="#C4B494" stroke-width="2.5"/><text transform="translate(-13 -40) rotate(45)" text-anchor="middle" y="8">BALL</text><text transform="translate(-1 28) rotate(45)" text-anchor="middle" y="8">N</text><text transform="translate(-54 -27) rotate(45)" text-anchor="middle" y="8">B</text><text transform="translate(54 26) rotate(45)" text-anchor="middle" y="8">N</text></g><g transform="translate(534.5 389)"><circle cx="-27.5" cy="0" r="23.5" fill="none" stroke="#C4B494" stroke-width="5.5"/><polygon points="-27.5,-9.0 -18.9,-2.8 -22.2,7.3 -32.8,7.3 -36.1,-2.8"/><path d="M-27.5 -9.0L-27.5 -15.0M-34.3 -19.9L-27.5 -15.0L-20.7 -19.9M-18.9 -2.8L-13.2 -4.6M-10.7 -12.6L-13.2 -4.6L-6.5 0.3M-22.2 7.3L-18.7 12.1M-10.3 12.1L-18.7 12.1L-21.3 20.1M-32.8 7.3L-36.3 12.1M-33.7 20.1L-36.3 12.1L-44.7 12.1M-36.1 -2.8L-41.8 -4.6M-48.5 0.3L-41.8 -4.6L-44.3 -12.6" fill="none" stroke="#C4B494" stroke-width="2.5"/><circle cx="27.5" cy="0" r="23.5" fill="none" stroke="#C4B494" stroke-width="5.5"/><polygon points="27.5,-9.0 36.1,-2.8 32.8,7.3 22.2,7.3 18.9,-2.8"/><path d="M27.5 -9.0L27.5 -15.0M20.7 -19.9L27.5 -15.0L34.3 -19.9M36.1 -2.8L41.8 -4.6M44.3 -12.6L41.8 -4.6L48.5 0.3M32.8 7.3L36.3 12.1M44.7 12.1L36.3 12.1L33.7 20.1M22.2 7.3L18.7 12.1M21.3 20.1L18.7 12.1L10.3 12.1M18.9 -2.8L13.2 -4.6M6.5 0.3L13.2 -4.6L10.7 -12.6" fill="none" stroke="#C4B494" stroke-width="2.5"/><text transform="translate(-13 -40) rotate(45)" text-anchor="middle" y="8">BALL</text><text transform="translate(-1 28) rotate(45)" text-anchor="middle" y="8">N</text><text transform="translate(-54 -27) rotate(45)" text-anchor="middle" y="8">B</text><text transform="translate(54 26) rotate(45)" text-anchor="middle" y="8">N</text></g><g transform="translate(787.5 389)"><circle cx="-27.5" cy="0" r="23.5" fill="none" stroke="#C4B494" stroke-width="5.5"/><polygon points="-27.5,-9.0 -18.9,-2.8 -22.2,7.3 -32.8,7.3 -36.1,-2.8"/><path d="M-27.5 -9.0L-27.5 -15.0M-34.3 -19.9L-27.5 -15.0L-20.7 -19.9M-18.9 -2.8L-13.2 -4.6M-10.7 -12.6L-13.2 -4.6L-6.5 0.3M-22.2 7.3L-18.7 12.1M-10.3 12.1L-18.7 12.1L-21.3 20.1M-32.8 7.3L-36.3 12.1M-33.7 20.1L-36.3 12.1L-44.7 12.1M-36.1 -2.8L-41.8 -4.6M-48.5 0.3L-41.8 -4.6L-44.3 -12.6" fill="none" stroke="#C4B494" stroke-width="2.5"/><circle cx="27.5" cy="0" r="23.5" fill="none" stroke="#C4B494" stroke-width="5.5"/><polygon points="27.5,-9.0 36.1,-2.8 32.8,7.3 22.2,7.3 18.9,-2.8"/><path d="M27.5 -9.0L27.5 -15.0M20.7 -19.9L27.5 -15.0L34.3 -19.9M36.1 -2.8L41.8 -4.6M44.3 -12.6L41.8 -4.6L48.5 0.3M32.8 7.3L36.3 12.1M44.7 12.1L36.3 12.1L33.7 20.1M22.2 7.3L18.7 12.1M21.3 20.1L18.7 12.1L10.3 12.1M18.9 -2.8L13.2 -4.6M6.5 0.3L13.2 -4.6L10.7 -12.6" fill="none" stroke="#C4B494" stroke-width="2.5"/><text transform="translate(-13 -40) rotate(45)" text-anchor="middle" y="8">BALL</text><text transform="translate(-1 28) rotate(45)" text-anchor="middle" y="8">N</text><text transform="translate(-54 -27) rotate(45)" text-anchor="middle" y="8">B</text><text transform="translate(54 26) rotate(45)" text-anchor="middle" y="8">N</text></g><g transform="translate(155 496)"><circle cx="-27.5" cy="0" r="23.5" fill="none" stroke="#C4B494" stroke-width="5.5"/><polygon points="-27.5,-9.0 -18.9,-2.8 -22.2,7.3 -32.8,7.3 -36.1,-2.8"/><path d="M-27.5 -9.0L-27.5 -15.0M-34.3 -19.9L-27.5 -15.0L-20.7 -19.9M-18.9 -2.8L-13.2 -4.6M-10.7 -12.6L-13.2 -4.6L-6.5 0.3M-22.2 7.3L-18.7 12.1M-10.3 12.1L-18.7 12.1L-21.3 20.1M-32.8 7.3L-36.3 12.1M-33.7 20.1L-36.3 12.1L-44.7 12.1M-36.1 -2.8L-41.8 -4.6M-48.5 0.3L-41.8 -4.6L-44.3 -12.6" fill="none" stroke="#C4B494" stroke-width="2.5"/><circle cx="27.5" cy="0" r="23.5" fill="none" stroke="#C4B494" stroke-width="5.5"/><polygon points="27.5,-9.0 36.1,-2.8 32.8,7.3 22.2,7.3 18.9,-2.8"/><path d="M27.5 -9.0L27.5 -15.0M20.7 -19.9L27.5 -15.0L34.3 -19.9M36.1 -2.8L41.8 -4.6M44.3 -12.6L41.8 -4.6L48.5 0.3M32.8 7.3L36.3 12.1M44.7 12.1L36.3 12.1L33.7 20.1M22.2 7.3L18.7 12.1M21.3 20.1L18.7 12.1L10.3 12.1M18.9 -2.8L13.2 -4.6M6.5 0.3L13.2 -4.6L10.7 -12.6" fill="none" stroke="#C4B494" stroke-width="2.5"/><text transform="translate(-13 -40) rotate(45)" text-anchor="middle" y="8">BALL</text><text transform="translate(-1 28) rotate(45)" text-anchor="middle" y="8">N</text><text transform="translate(-54 -27) rotate(45)" text-anchor="middle" y="8">B</text><text transform="translate(54 26) rotate(45)" text-anchor="middle" y="8">N</text></g><g transform="translate(408 496)"><circle cx="-27.5" cy="0" r="23.5" fill="none" stroke="#C4B494" stroke-width="5.5"/><polygon points="-27.5,-9.0 -18.9,-2.8 -22.2,7.3 -32.8,7.3 -36.1,-2.8"/><path d="M-27.5 -9.0L-27.5 -15.0M-34.3 -19.9L-27.5 -15.0L-20.7 -19.9M-18.9 -2.8L-13.2 -4.6M-10.7 -12.6L-13.2 -4.6L-6.5 0.3M-22.2 7.3L-18.7 12.1M-10.3 12.1L-18.7 12.1L-21.3 20.1M-32.8 7.3L-36.3 12.1M-33.7 20.1L-36.3 12.1L-44.7 12.1M-36.1 -2.8L-41.8 -4.6M-48.5 0.3L-41.8 -4.6L-44.3 -12.6" fill="none" stroke="#C4B494" stroke-width="2.5"/><circle cx="27.5" cy="0" r="23.5" fill="none" stroke="#C4B494" stroke-width="5.5"/><polygon points="27.5,-9.0 36.1,-2.8 32.8,7.3 22.2,7.3 18.9,-2.8"/><path d="M27.5 -9.0L27.5 -15.0M20.7 -19.9L27.5 -15.0L34.3 -19.9M36.1 -2.8L41.8 -4.6M44.3 -12.6L41.8 -4.6L48.5 0.3M32.8 7.3L36.3 12.1M44.7 12.1L36.3 12.1L33.7 20.1M22.2 7.3L18.7 12.1M21.3 20.1L18.7 12.1L10.3 12.1M18.9 -2.8L13.2 -4.6M6.5 0.3L13.2 -4.6L10.7 -12.6" fill="none" stroke="#C4B494" stroke-width="2.5"/><text transform="translate(-13 -40) rotate(45)" text-anchor="middle" y="8">BALL</text><text transform="translate(-1 28) rotate(45)" text-anchor="middle" y="8">N</text><text transform="translate(-54 -27) rotate(45)" text-anchor="middle" y="8">B</text><text transform="translate(54 26) rotate(45)" text-anchor="middle" y="8">N</text></g><g transform="translate(661 496)"><circle cx="-27.5" cy="0" r="23.5" fill="none" stroke="#C4B494" stroke-width="5.5"/><polygon points="-27.5,-9.0 -18.9,-2.8 -22.2,7.3 -32.8,7.3 -36.1,-2.8"/><path d="M-27.5 -9.0L-27.5 -15.0M-34.3 -19.9L-27.5 -15.0L-20.7 -19.9M-18.9 -2.8L-13.2 -4.6M-10.7 -12.6L-13.2 -4.6L-6.5 0.3M-22.2 7.3L-18.7 12.1M-10.3 12.1L-18.7 12.1L-21.3 20.1M-32.8 7.3L-36.3 12.1M-33.7 20.1L-36.3 12.1L-44.7 12.1M-36.1 -2.8L-41.8 -4.6M-48.5 0.3L-41.8 -4.6L-44.3 -12.6" fill="none" stroke="#C4B494" stroke-width="2.5"/><circle cx="27.5" cy="0" r="23.5" fill="none" stroke="#C4B494" stroke-width="5.5"/><polygon points="27.5,-9.0 36.1,-2.8 32.8,7.3 22.2,7.3 18.9,-2.8"/><path d="M27.5 -9.0L27.5 -15.0M20.7 -19.9L27.5 -15.0L34.3 -19.9M36.1 -2.8L41.8 -4.6M44.3 -12.6L41.8 -4.6L48.5 0.3M32.8 7.3L36.3 12.1M44.7 12.1L36.3 12.1L33.7 20.1M22.2 7.3L18.7 12.1M21.3 20.1L18.7 12.1L10.3 12.1M18.9 -2.8L13.2 -4.6M6.5 0.3L13.2 -4.6L10.7 -12.6" fill="none" stroke="#C4B494" stroke-width="2.5"/><text transform="translate(-13 -40) rotate(45)" text-anchor="middle" y="8">BALL</text><text transform="translate(-1 28) rotate(45)" text-anchor="middle" y="8">N</text><text transform="translate(-54 -27) rotate(45)" text-anchor="middle" y="8">B</text><text transform="translate(54 26) rotate(45)" text-anchor="middle" y="8">N</text></g><g transform="translate(914 496)"><circle cx="-27.5" cy="0" r="23.5" fill="none" stroke="#C4B494" stroke-width="5.5"/><polygon points="-27.5,-9.0 -18.9,-2.8 -22.2,7.3 -32.8,7.3 -36.1,-2.8"/><path d="M-27.5 -9.0L-27.5 -15.0M-34.3 -19.9L-27.5 -15.0L-20.7 -19.9M-18.9 -2.8L-13.2 -4.6M-10.7 -12.6L-13.2 -4.6L-6.5 0.3M-22.2 7.3L-18.7 12.1M-10.3 12.1L-18.7 12.1L-21.3 20.1M-32.8 7.3L-36.3 12.1M-33.7 20.1L-36.3 12.1L-44.7 12.1M-36.1 -2.8L-41.8 -4.6M-48.5 0.3L-41.8 -4.6L-44.3 -12.6" fill="none" stroke="#C4B494" stroke-width="2.5"/><circle cx="27.5" cy="0" r="23.5" fill="none" stroke="#C4B494" stroke-width="5.5"/><polygon points="27.5,-9.0 36.1,-2.8 32.8,7.3 22.2,7.3 18.9,-2.8"/><path d="M27.5 -9.0L27.5 -15.0M20.7 -19.9L27.5 -15.0L34.3 -19.9M36.1 -2.8L41.8 -4.6M44.3 -12.6L41.8 -4.6L48.5 0.3M32.8 7.3L36.3 12.1M44.7 12.1L36.3 12.1L33.7 20.1M22.2 7.3L18.7 12.1M21.3 20.1L18.7 12.1L10.3 12.1M18.9 -2.8L13.2 -4.6M6.5 0.3L13.2 -4.6L10.7 -12.6" fill="none" stroke="#C4B494" stroke-width="2.5"/><text transform="translate(-13 -40) rotate(45)" text-anchor="middle" y="8">BALL</text><text transform="translate(-1 28) rotate(45)" text-anchor="middle" y="8">N</text><text transform="translate(-54 -27) rotate(45)" text-anchor="middle" y="8">B</text><text transform="translate(54 26) rotate(45)" text-anchor="middle" y="8">N</text></g><g transform="translate(28.5 603)"><circle cx="-27.5" cy="0" r="23.5" fill="none" stroke="#C4B494" stroke-width="5.5"/><polygon points="-27.5,-9.0 -18.9,-2.8 -22.2,7.3 -32.8,7.3 -36.1,-2.8"/><path d="M-27.5 -9.0L-27.5 -15.0M-34.3 -19.9L-27.5 -15.0L-20.7 -19.9M-18.9 -2.8L-13.2 -4.6M-10.7 -12.6L-13.2 -4.6L-6.5 0.3M-22.2 7.3L-18.7 12.1M-10.3 12.1L-18.7 12.1L-21.3 20.1M-32.8 7.3L-36.3 12.1M-33.7 20.1L-36.3 12.1L-44.7 12.1M-36.1 -2.8L-41.8 -4.6M-48.5 0.3L-41.8 -4.6L-44.3 -12.6" fill="none" stroke="#C4B494" stroke-width="2.5"/><circle cx="27.5" cy="0" r="23.5" fill="none" stroke="#C4B494" stroke-width="5.5"/><polygon points="27.5,-9.0 36.1,-2.8 32.8,7.3 22.2,7.3 18.9,-2.8"/><path d="M27.5 -9.0L27.5 -15.0M20.7 -19.9L27.5 -15.0L34.3 -19.9M36.1 -2.8L41.8 -4.6M44.3 -12.6L41.8 -4.6L48.5 0.3M32.8 7.3L36.3 12.1M44.7 12.1L36.3 12.1L33.7 20.1M22.2 7.3L18.7 12.1M21.3 20.1L18.7 12.1L10.3 12.1M18.9 -2.8L13.2 -4.6M6.5 0.3L13.2 -4.6L10.7 -12.6" fill="none" stroke="#C4B494" stroke-width="2.5"/><text transform="translate(-13 -40) rotate(45)" text-anchor="middle" y="8">BALL</text><text transform="translate(-1 28) rotate(45)" text-anchor="middle" y="8">N</text><text transform="translate(-54 -27) rotate(45)" text-anchor="middle" y="8">B</text><text transform="translate(54 26) rotate(45)" text-anchor="middle" y="8">N</text></g><g transform="translate(281.5 603)"><circle cx="-27.5" cy="0" r="23.5" fill="none" stroke="#C4B494" stroke-width="5.5"/><polygon points="-27.5,-9.0 -18.9,-2.8 -22.2,7.3 -32.8,7.3 -36.1,-2.8"/><path d="M-27.5 -9.0L-27.5 -15.0M-34.3 -19.9L-27.5 -15.0L-20.7 -19.9M-18.9 -2.8L-13.2 -4.6M-10.7 -12.6L-13.2 -4.6L-6.5 0.3M-22.2 7.3L-18.7 12.1M-10.3 12.1L-18.7 12.1L-21.3 20.1M-32.8 7.3L-36.3 12.1M-33.7 20.1L-36.3 12.1L-44.7 12.1M-36.1 -2.8L-41.8 -4.6M-48.5 0.3L-41.8 -4.6L-44.3 -12.6" fill="none" stroke="#C4B494" stroke-width="2.5"/><circle cx="27.5" cy="0" r="23.5" fill="none" stroke="#C4B494" stroke-width="5.5"/><polygon points="27.5,-9.0 36.1,-2.8 32.8,7.3 22.2,7.3 18.9,-2.8"/><path d="M27.5 -9.0L27.5 -15.0M20.7 -19.9L27.5 -15.0L34.3 -19.9M36.1 -2.8L41.8 -4.6M44.3 -12.6L41.8 -4.6L48.5 0.3M32.8 7.3L36.3 12.1M44.7 12.1L36.3 12.1L33.7 20.1M22.2 7.3L18.7 12.1M21.3 20.1L18.7 12.1L10.3 12.1M18.9 -2.8L13.2 -4.6M6.5 0.3L13.2 -4.6L10.7 -12.6" fill="none" stroke="#C4B494" stroke-width="2.5"/><text transform="translate(-13 -40) rotate(45)" text-anchor="middle" y="8">BALL</text><text transform="translate(-1 28) rotate(45)" text-anchor="middle" y="8">N</text><text transform="translate(-54 -27) rotate(45)" text-anchor="middle" y="8">B</text><text transform="translate(54 26) rotate(45)" text-anchor="middle" y="8">N</text></g><g transform="translate(534.5 603)"><circle cx="-27.5" cy="0" r="23.5" fill="none" stroke="#C4B494" stroke-width="5.5"/><polygon points="-27.5,-9.0 -18.9,-2.8 -22.2,7.3 -32.8,7.3 -36.1,-2.8"/><path d="M-27.5 -9.0L-27.5 -15.0M-34.3 -19.9L-27.5 -15.0L-20.7 -19.9M-18.9 -2.8L-13.2 -4.6M-10.7 -12.6L-13.2 -4.6L-6.5 0.3M-22.2 7.3L-18.7 12.1M-10.3 12.1L-18.7 12.1L-21.3 20.1M-32.8 7.3L-36.3 12.1M-33.7 20.1L-36.3 12.1L-44.7 12.1M-36.1 -2.8L-41.8 -4.6M-48.5 0.3L-41.8 -4.6L-44.3 -12.6" fill="none" stroke="#C4B494" stroke-width="2.5"/><circle cx="27.5" cy="0" r="23.5" fill="none" stroke="#C4B494" stroke-width="5.5"/><polygon points="27.5,-9.0 36.1,-2.8 32.8,7.3 22.2,7.3 18.9,-2.8"/><path d="M27.5 -9.0L27.5 -15.0M20.7 -19.9L27.5 -15.0L34.3 -19.9M36.1 -2.8L41.8 -4.6M44.3 -12.6L41.8 -4.6L48.5 0.3M32.8 7.3L36.3 12.1M44.7 12.1L36.3 12.1L33.7 20.1M22.2 7.3L18.7 12.1M21.3 20.1L18.7 12.1L10.3 12.1M18.9 -2.8L13.2 -4.6M6.5 0.3L13.2 -4.6L10.7 -12.6" fill="none" stroke="#C4B494" stroke-width="2.5"/><text transform="translate(-13 -40) rotate(45)" text-anchor="middle" y="8">BALL</text><text transform="translate(-1 28) rotate(45)" text-anchor="middle" y="8">N</text><text transform="translate(-54 -27) rotate(45)" text-anchor="middle" y="8">B</text><text transform="translate(54 26) rotate(45)" text-anchor="middle" y="8">N</text></g><g transform="translate(787.5 603)"><circle cx="-27.5" cy="0" r="23.5" fill="none" stroke="#C4B494" stroke-width="5.5"/><polygon points="-27.5,-9.0 -18.9,-2.8 -22.2,7.3 -32.8,7.3 -36.1,-2.8"/><path d="M-27.5 -9.0L-27.5 -15.0M-34.3 -19.9L-27.5 -15.0L-20.7 -19.9M-18.9 -2.8L-13.2 -4.6M-10.7 -12.6L-13.2 -4.6L-6.5 0.3M-22.2 7.3L-18.7 12.1M-10.3 12.1L-18.7 12.1L-21.3 20.1M-32.8 7.3L-36.3 12.1M-33.7 20.1L-36.3 12.1L-44.7 12.1M-36.1 -2.8L-41.8 -4.6M-48.5 0.3L-41.8 -4.6L-44.3 -12.6" fill="none" stroke="#C4B494" stroke-width="2.5"/><circle cx="27.5" cy="0" r="23.5" fill="none" stroke="#C4B494" stroke-width="5.5"/><polygon points="27.5,-9.0 36.1,-2.8 32.8,7.3 22.2,7.3 18.9,-2.8"/><path d="M27.5 -9.0L27.5 -15.0M20.7 -19.9L27.5 -15.0L34.3 -19.9M36.1 -2.8L41.8 -4.6M44.3 -12.6L41.8 -4.6L48.5 0.3M32.8 7.3L36.3 12.1M44.7 12.1L36.3 12.1L33.7 20.1M22.2 7.3L18.7 12.1M21.3 20.1L18.7 12.1L10.3 12.1M18.9 -2.8L13.2 -4.6M6.5 0.3L13.2 -4.6L10.7 -12.6" fill="none" stroke="#C4B494" stroke-width="2.5"/><text transform="translate(-13 -40) rotate(45)" text-anchor="middle" y="8">BALL</text><text transform="translate(-1 28) rotate(45)" text-anchor="middle" y="8">N</text><text transform="translate(-54 -27) rotate(45)" text-anchor="middle" y="8">B</text><text transform="translate(54 26) rotate(45)" text-anchor="middle" y="8">N</text></g></svg>
<div id="ln"></div></div><div id="tb"></div></body></html>
